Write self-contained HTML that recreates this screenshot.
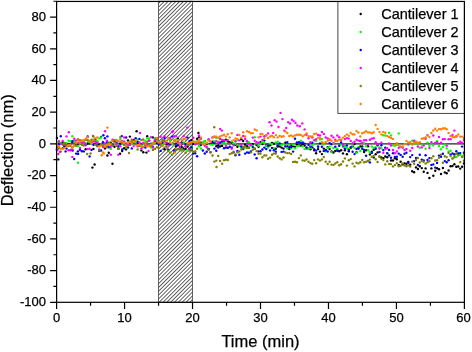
<!DOCTYPE html><html><head><meta charset="utf-8"><style>html,body{margin:0;padding:0;background:#fff}body{width:472px;height:352px;overflow:hidden;position:relative}</style></head><body><svg width="472" height="352" viewBox="0 0 472 352" style="position:absolute;left:0;top:0;will-change:transform;font-family:'Liberation Sans',sans-serif"><style>text{stroke:#000;stroke-width:.25px}</style><defs><pattern id="h" width="2.715" height="2.715" patternUnits="userSpaceOnUse" patternTransform="rotate(-45)"><rect x="0" y="0" width="2.715" height=".82" fill="#444"/></pattern></defs><rect width="472" height="352" fill="#fff"/><rect x="158.5" y="1.25" width="34.0" height="301.05" fill="url(#h)" stroke="#404040" stroke-width=".8"/><line x1="56.6" x2="464.4" y1="143.85" y2="143.85" stroke="#222" stroke-width="1.4"/><g><circle cx="56.9" cy="137.9" r="1.2" fill="#000000"/><circle cx="58.9" cy="143.7" r="1.2" fill="#000000"/><circle cx="60.8" cy="143.7" r="1.2" fill="#000000"/><circle cx="62.7" cy="142.4" r="1.2" fill="#000000"/><circle cx="64.6" cy="146.2" r="1.2" fill="#000000"/><circle cx="66.5" cy="144.5" r="1.2" fill="#000000"/><circle cx="68.5" cy="144.1" r="1.2" fill="#000000"/><circle cx="70.4" cy="150.1" r="1.2" fill="#000000"/><circle cx="72.3" cy="142.1" r="1.2" fill="#000000"/><circle cx="74.2" cy="141.2" r="1.2" fill="#000000"/><circle cx="76.1" cy="145.3" r="1.2" fill="#000000"/><circle cx="78.1" cy="144.9" r="1.2" fill="#000000"/><circle cx="80.0" cy="142.4" r="1.2" fill="#000000"/><circle cx="81.9" cy="144.3" r="1.2" fill="#000000"/><circle cx="83.8" cy="144.8" r="1.2" fill="#000000"/><circle cx="85.7" cy="149.2" r="1.2" fill="#000000"/><circle cx="87.7" cy="143.5" r="1.2" fill="#000000"/><circle cx="89.6" cy="143.3" r="1.2" fill="#000000"/><circle cx="91.5" cy="142.7" r="1.2" fill="#000000"/><circle cx="93.4" cy="148.9" r="1.2" fill="#000000"/><circle cx="95.3" cy="139.6" r="1.2" fill="#000000"/><circle cx="97.3" cy="142.0" r="1.2" fill="#000000"/><circle cx="99.2" cy="144.7" r="1.2" fill="#000000"/><circle cx="101.1" cy="137.0" r="1.2" fill="#000000"/><circle cx="103.0" cy="142.0" r="1.2" fill="#000000"/><circle cx="104.9" cy="148.4" r="1.2" fill="#000000"/><circle cx="106.9" cy="146.6" r="1.2" fill="#000000"/><circle cx="108.8" cy="152.7" r="1.2" fill="#000000"/><circle cx="110.7" cy="142.8" r="1.2" fill="#000000"/><circle cx="112.6" cy="145.0" r="1.2" fill="#000000"/><circle cx="114.5" cy="146.8" r="1.2" fill="#000000"/><circle cx="116.5" cy="141.0" r="1.2" fill="#000000"/><circle cx="118.4" cy="148.8" r="1.2" fill="#000000"/><circle cx="120.3" cy="143.5" r="1.2" fill="#000000"/><circle cx="122.2" cy="151.0" r="1.2" fill="#000000"/><circle cx="124.1" cy="148.3" r="1.2" fill="#000000"/><circle cx="126.1" cy="149.4" r="1.2" fill="#000000"/><circle cx="128.0" cy="140.4" r="1.2" fill="#000000"/><circle cx="129.9" cy="136.6" r="1.2" fill="#000000"/><circle cx="131.8" cy="142.8" r="1.2" fill="#000000"/><circle cx="133.7" cy="140.6" r="1.2" fill="#000000"/><circle cx="135.7" cy="143.5" r="1.2" fill="#000000"/><circle cx="137.6" cy="141.8" r="1.2" fill="#000000"/><circle cx="139.5" cy="145.9" r="1.2" fill="#000000"/><circle cx="141.4" cy="150.4" r="1.2" fill="#000000"/><circle cx="143.3" cy="152.2" r="1.2" fill="#000000"/><circle cx="145.3" cy="145.0" r="1.2" fill="#000000"/><circle cx="147.2" cy="136.3" r="1.2" fill="#000000"/><circle cx="149.1" cy="140.6" r="1.2" fill="#000000"/><circle cx="151.0" cy="144.7" r="1.2" fill="#000000"/><circle cx="152.9" cy="137.4" r="1.2" fill="#000000"/><circle cx="154.9" cy="141.1" r="1.2" fill="#000000"/><circle cx="156.8" cy="142.7" r="1.2" fill="#000000"/><circle cx="158.7" cy="142.6" r="1.2" fill="#000000"/><circle cx="160.6" cy="143.9" r="1.2" fill="#000000"/><circle cx="162.5" cy="145.0" r="1.2" fill="#000000"/><circle cx="164.5" cy="149.2" r="1.2" fill="#000000"/><circle cx="166.4" cy="143.7" r="1.2" fill="#000000"/><circle cx="168.3" cy="144.1" r="1.2" fill="#000000"/><circle cx="170.2" cy="139.8" r="1.2" fill="#000000"/><circle cx="172.1" cy="143.9" r="1.2" fill="#000000"/><circle cx="174.1" cy="150.6" r="1.2" fill="#000000"/><circle cx="176.0" cy="146.2" r="1.2" fill="#000000"/><circle cx="177.9" cy="138.6" r="1.2" fill="#000000"/><circle cx="179.8" cy="143.6" r="1.2" fill="#000000"/><circle cx="181.7" cy="146.9" r="1.2" fill="#000000"/><circle cx="183.7" cy="149.0" r="1.2" fill="#000000"/><circle cx="185.6" cy="149.1" r="1.2" fill="#000000"/><circle cx="187.5" cy="146.5" r="1.2" fill="#000000"/><circle cx="189.4" cy="148.8" r="1.2" fill="#000000"/><circle cx="191.3" cy="140.1" r="1.2" fill="#000000"/><circle cx="193.3" cy="143.7" r="1.2" fill="#000000"/><circle cx="195.2" cy="143.5" r="1.2" fill="#000000"/><circle cx="197.1" cy="138.8" r="1.2" fill="#000000"/><circle cx="199.0" cy="137.2" r="1.2" fill="#000000"/><circle cx="200.9" cy="142.7" r="1.2" fill="#000000"/><circle cx="202.9" cy="142.5" r="1.2" fill="#000000"/><circle cx="204.8" cy="141.1" r="1.2" fill="#000000"/><circle cx="206.7" cy="144.0" r="1.2" fill="#000000"/><circle cx="208.6" cy="148.9" r="1.2" fill="#000000"/><circle cx="210.5" cy="143.9" r="1.2" fill="#000000"/><circle cx="212.5" cy="141.8" r="1.2" fill="#000000"/><circle cx="214.4" cy="142.5" r="1.2" fill="#000000"/><circle cx="216.3" cy="146.3" r="1.2" fill="#000000"/><circle cx="218.2" cy="145.5" r="1.2" fill="#000000"/><circle cx="220.1" cy="146.4" r="1.2" fill="#000000"/><circle cx="222.1" cy="145.9" r="1.2" fill="#000000"/><circle cx="224.0" cy="141.5" r="1.2" fill="#000000"/><circle cx="225.9" cy="139.6" r="1.2" fill="#000000"/><circle cx="227.8" cy="141.4" r="1.2" fill="#000000"/><circle cx="229.7" cy="142.3" r="1.2" fill="#000000"/><circle cx="231.7" cy="142.2" r="1.2" fill="#000000"/><circle cx="233.6" cy="144.1" r="1.2" fill="#000000"/><circle cx="235.5" cy="144.8" r="1.2" fill="#000000"/><circle cx="237.4" cy="146.7" r="1.2" fill="#000000"/><circle cx="239.3" cy="145.6" r="1.2" fill="#000000"/><circle cx="241.3" cy="139.2" r="1.2" fill="#000000"/><circle cx="243.2" cy="141.0" r="1.2" fill="#000000"/><circle cx="245.1" cy="144.8" r="1.2" fill="#000000"/><circle cx="247.0" cy="146.3" r="1.2" fill="#000000"/><circle cx="248.9" cy="147.8" r="1.2" fill="#000000"/><circle cx="250.9" cy="145.0" r="1.2" fill="#000000"/><circle cx="252.8" cy="144.2" r="1.2" fill="#000000"/><circle cx="254.7" cy="148.8" r="1.2" fill="#000000"/><circle cx="256.6" cy="145.1" r="1.2" fill="#000000"/><circle cx="258.5" cy="146.8" r="1.2" fill="#000000"/><circle cx="260.5" cy="142.1" r="1.2" fill="#000000"/><circle cx="262.4" cy="144.1" r="1.2" fill="#000000"/><circle cx="264.3" cy="140.6" r="1.2" fill="#000000"/><circle cx="266.2" cy="145.4" r="1.2" fill="#000000"/><circle cx="268.1" cy="146.5" r="1.2" fill="#000000"/><circle cx="270.1" cy="145.3" r="1.2" fill="#000000"/><circle cx="272.0" cy="143.0" r="1.2" fill="#000000"/><circle cx="273.9" cy="143.7" r="1.2" fill="#000000"/><circle cx="275.8" cy="148.7" r="1.2" fill="#000000"/><circle cx="277.7" cy="146.5" r="1.2" fill="#000000"/><circle cx="279.7" cy="146.4" r="1.2" fill="#000000"/><circle cx="281.6" cy="147.6" r="1.2" fill="#000000"/><circle cx="283.5" cy="148.6" r="1.2" fill="#000000"/><circle cx="285.4" cy="142.6" r="1.2" fill="#000000"/><circle cx="287.3" cy="146.5" r="1.2" fill="#000000"/><circle cx="289.3" cy="149.0" r="1.2" fill="#000000"/><circle cx="291.2" cy="145.8" r="1.2" fill="#000000"/><circle cx="293.1" cy="146.3" r="1.2" fill="#000000"/><circle cx="295.0" cy="147.0" r="1.2" fill="#000000"/><circle cx="296.9" cy="145.0" r="1.2" fill="#000000"/><circle cx="298.9" cy="145.2" r="1.2" fill="#000000"/><circle cx="300.8" cy="145.6" r="1.2" fill="#000000"/><circle cx="302.7" cy="144.2" r="1.2" fill="#000000"/><circle cx="304.6" cy="145.6" r="1.2" fill="#000000"/><circle cx="306.5" cy="148.4" r="1.2" fill="#000000"/><circle cx="308.5" cy="148.7" r="1.2" fill="#000000"/><circle cx="310.4" cy="149.2" r="1.2" fill="#000000"/><circle cx="312.3" cy="147.4" r="1.2" fill="#000000"/><circle cx="314.2" cy="150.3" r="1.2" fill="#000000"/><circle cx="316.1" cy="153.3" r="1.2" fill="#000000"/><circle cx="318.1" cy="149.1" r="1.2" fill="#000000"/><circle cx="320.0" cy="151.6" r="1.2" fill="#000000"/><circle cx="321.9" cy="154.1" r="1.2" fill="#000000"/><circle cx="323.8" cy="148.6" r="1.2" fill="#000000"/><circle cx="325.7" cy="149.9" r="1.2" fill="#000000"/><circle cx="327.7" cy="147.1" r="1.2" fill="#000000"/><circle cx="329.6" cy="149.1" r="1.2" fill="#000000"/><circle cx="331.5" cy="151.4" r="1.2" fill="#000000"/><circle cx="333.4" cy="152.5" r="1.2" fill="#000000"/><circle cx="335.3" cy="151.0" r="1.2" fill="#000000"/><circle cx="337.3" cy="150.0" r="1.2" fill="#000000"/><circle cx="339.2" cy="151.2" r="1.2" fill="#000000"/><circle cx="341.1" cy="150.2" r="1.2" fill="#000000"/><circle cx="343.0" cy="153.4" r="1.2" fill="#000000"/><circle cx="344.9" cy="150.3" r="1.2" fill="#000000"/><circle cx="346.9" cy="154.3" r="1.2" fill="#000000"/><circle cx="348.8" cy="151.3" r="1.2" fill="#000000"/><circle cx="350.7" cy="148.1" r="1.2" fill="#000000"/><circle cx="352.6" cy="146.2" r="1.2" fill="#000000"/><circle cx="354.5" cy="144.1" r="1.2" fill="#000000"/><circle cx="356.5" cy="152.2" r="1.2" fill="#000000"/><circle cx="358.4" cy="148.6" r="1.2" fill="#000000"/><circle cx="360.3" cy="146.4" r="1.2" fill="#000000"/><circle cx="362.2" cy="146.5" r="1.2" fill="#000000"/><circle cx="364.1" cy="152.0" r="1.2" fill="#000000"/><circle cx="366.1" cy="150.3" r="1.2" fill="#000000"/><circle cx="368.0" cy="146.3" r="1.2" fill="#000000"/><circle cx="369.9" cy="154.4" r="1.2" fill="#000000"/><circle cx="371.8" cy="151.8" r="1.2" fill="#000000"/><circle cx="373.7" cy="149.7" r="1.2" fill="#000000"/><circle cx="375.7" cy="154.2" r="1.2" fill="#000000"/><circle cx="377.6" cy="152.4" r="1.2" fill="#000000"/><circle cx="379.5" cy="156.6" r="1.2" fill="#000000"/><circle cx="381.4" cy="157.5" r="1.2" fill="#000000"/><circle cx="383.3" cy="158.2" r="1.2" fill="#000000"/><circle cx="385.3" cy="156.5" r="1.2" fill="#000000"/><circle cx="387.2" cy="157.3" r="1.2" fill="#000000"/><circle cx="389.1" cy="155.4" r="1.2" fill="#000000"/><circle cx="391.0" cy="160.5" r="1.2" fill="#000000"/><circle cx="393.0" cy="160.5" r="1.2" fill="#000000"/><circle cx="394.9" cy="158.3" r="1.2" fill="#000000"/><circle cx="396.8" cy="159.2" r="1.2" fill="#000000"/><circle cx="398.7" cy="164.9" r="1.2" fill="#000000"/><circle cx="400.6" cy="161.8" r="1.2" fill="#000000"/><circle cx="402.6" cy="164.4" r="1.2" fill="#000000"/><circle cx="404.5" cy="163.4" r="1.2" fill="#000000"/><circle cx="406.4" cy="163.7" r="1.2" fill="#000000"/><circle cx="408.3" cy="161.9" r="1.2" fill="#000000"/><circle cx="410.2" cy="164.7" r="1.2" fill="#000000"/><circle cx="412.2" cy="171.2" r="1.2" fill="#000000"/><circle cx="414.1" cy="172.3" r="1.2" fill="#000000"/><circle cx="416.0" cy="167.4" r="1.2" fill="#000000"/><circle cx="417.9" cy="169.0" r="1.2" fill="#000000"/><circle cx="419.8" cy="166.2" r="1.2" fill="#000000"/><circle cx="421.8" cy="168.1" r="1.2" fill="#000000"/><circle cx="423.7" cy="171.8" r="1.2" fill="#000000"/><circle cx="425.6" cy="168.4" r="1.2" fill="#000000"/><circle cx="427.5" cy="172.9" r="1.2" fill="#000000"/><circle cx="429.4" cy="178.0" r="1.2" fill="#000000"/><circle cx="431.4" cy="168.4" r="1.2" fill="#000000"/><circle cx="433.3" cy="175.7" r="1.2" fill="#000000"/><circle cx="435.2" cy="170.8" r="1.2" fill="#000000"/><circle cx="437.1" cy="168.2" r="1.2" fill="#000000"/><circle cx="439.0" cy="169.2" r="1.2" fill="#000000"/><circle cx="441.0" cy="174.0" r="1.2" fill="#000000"/><circle cx="442.9" cy="168.0" r="1.2" fill="#000000"/><circle cx="444.8" cy="172.4" r="1.2" fill="#000000"/><circle cx="446.7" cy="173.2" r="1.2" fill="#000000"/><circle cx="448.6" cy="170.5" r="1.2" fill="#000000"/><circle cx="450.6" cy="166.3" r="1.2" fill="#000000"/><circle cx="452.5" cy="166.0" r="1.2" fill="#000000"/><circle cx="454.4" cy="164.3" r="1.2" fill="#000000"/><circle cx="456.3" cy="166.8" r="1.2" fill="#000000"/><circle cx="458.2" cy="166.5" r="1.2" fill="#000000"/><circle cx="460.2" cy="168.6" r="1.2" fill="#000000"/><circle cx="462.1" cy="166.8" r="1.2" fill="#000000"/><circle cx="464.0" cy="163.5" r="1.2" fill="#000000"/><circle cx="94.6" cy="164.5" r="1.2" fill="#000000"/><circle cx="92.4" cy="167.6" r="1.2" fill="#000000"/><circle cx="112.5" cy="163.7" r="1.2" fill="#000000"/><circle cx="107.4" cy="155.5" r="1.2" fill="#000000"/><circle cx="120.1" cy="153.8" r="1.2" fill="#000000"/><circle cx="58.3" cy="159.4" r="1.2" fill="#000000"/><circle cx="136.6" cy="131.3" r="1.2" fill="#000000"/><circle cx="146.4" cy="152.6" r="1.2" fill="#000000"/><circle cx="191.1" cy="150.0" r="1.2" fill="#000000"/><circle cx="198.4" cy="133.0" r="1.2" fill="#000000"/></g><g><circle cx="56.9" cy="143.3" r="1.2" fill="#00ff00"/><circle cx="58.9" cy="141.0" r="1.2" fill="#00ff00"/><circle cx="60.8" cy="143.8" r="1.2" fill="#00ff00"/><circle cx="62.7" cy="144.7" r="1.2" fill="#00ff00"/><circle cx="64.6" cy="142.9" r="1.2" fill="#00ff00"/><circle cx="66.5" cy="143.1" r="1.2" fill="#00ff00"/><circle cx="68.5" cy="140.6" r="1.2" fill="#00ff00"/><circle cx="70.4" cy="141.3" r="1.2" fill="#00ff00"/><circle cx="72.3" cy="136.3" r="1.2" fill="#00ff00"/><circle cx="74.2" cy="141.3" r="1.2" fill="#00ff00"/><circle cx="76.1" cy="142.8" r="1.2" fill="#00ff00"/><circle cx="78.1" cy="145.9" r="1.2" fill="#00ff00"/><circle cx="80.0" cy="143.4" r="1.2" fill="#00ff00"/><circle cx="81.9" cy="140.5" r="1.2" fill="#00ff00"/><circle cx="83.8" cy="144.3" r="1.2" fill="#00ff00"/><circle cx="85.7" cy="143.2" r="1.2" fill="#00ff00"/><circle cx="87.7" cy="140.3" r="1.2" fill="#00ff00"/><circle cx="89.6" cy="142.2" r="1.2" fill="#00ff00"/><circle cx="91.5" cy="144.1" r="1.2" fill="#00ff00"/><circle cx="93.4" cy="139.8" r="1.2" fill="#00ff00"/><circle cx="95.3" cy="141.4" r="1.2" fill="#00ff00"/><circle cx="97.3" cy="140.9" r="1.2" fill="#00ff00"/><circle cx="99.2" cy="138.2" r="1.2" fill="#00ff00"/><circle cx="101.1" cy="137.5" r="1.2" fill="#00ff00"/><circle cx="103.0" cy="142.2" r="1.2" fill="#00ff00"/><circle cx="104.9" cy="144.2" r="1.2" fill="#00ff00"/><circle cx="106.9" cy="142.1" r="1.2" fill="#00ff00"/><circle cx="108.8" cy="142.9" r="1.2" fill="#00ff00"/><circle cx="110.7" cy="148.9" r="1.2" fill="#00ff00"/><circle cx="112.6" cy="140.3" r="1.2" fill="#00ff00"/><circle cx="114.5" cy="141.9" r="1.2" fill="#00ff00"/><circle cx="116.5" cy="140.0" r="1.2" fill="#00ff00"/><circle cx="118.4" cy="145.7" r="1.2" fill="#00ff00"/><circle cx="120.3" cy="139.3" r="1.2" fill="#00ff00"/><circle cx="122.2" cy="143.6" r="1.2" fill="#00ff00"/><circle cx="124.1" cy="143.3" r="1.2" fill="#00ff00"/><circle cx="126.1" cy="147.5" r="1.2" fill="#00ff00"/><circle cx="128.0" cy="144.7" r="1.2" fill="#00ff00"/><circle cx="129.9" cy="144.0" r="1.2" fill="#00ff00"/><circle cx="131.8" cy="143.7" r="1.2" fill="#00ff00"/><circle cx="133.7" cy="141.6" r="1.2" fill="#00ff00"/><circle cx="135.7" cy="142.2" r="1.2" fill="#00ff00"/><circle cx="137.6" cy="139.4" r="1.2" fill="#00ff00"/><circle cx="139.5" cy="143.3" r="1.2" fill="#00ff00"/><circle cx="141.4" cy="146.2" r="1.2" fill="#00ff00"/><circle cx="143.3" cy="143.9" r="1.2" fill="#00ff00"/><circle cx="145.3" cy="141.0" r="1.2" fill="#00ff00"/><circle cx="147.2" cy="138.2" r="1.2" fill="#00ff00"/><circle cx="149.1" cy="138.7" r="1.2" fill="#00ff00"/><circle cx="151.0" cy="147.4" r="1.2" fill="#00ff00"/><circle cx="152.9" cy="143.0" r="1.2" fill="#00ff00"/><circle cx="154.9" cy="138.1" r="1.2" fill="#00ff00"/><circle cx="156.8" cy="141.2" r="1.2" fill="#00ff00"/><circle cx="158.7" cy="144.1" r="1.2" fill="#00ff00"/><circle cx="160.6" cy="142.2" r="1.2" fill="#00ff00"/><circle cx="162.5" cy="144.3" r="1.2" fill="#00ff00"/><circle cx="164.5" cy="141.2" r="1.2" fill="#00ff00"/><circle cx="166.4" cy="142.5" r="1.2" fill="#00ff00"/><circle cx="168.3" cy="138.2" r="1.2" fill="#00ff00"/><circle cx="170.2" cy="139.9" r="1.2" fill="#00ff00"/><circle cx="172.1" cy="144.4" r="1.2" fill="#00ff00"/><circle cx="174.1" cy="141.4" r="1.2" fill="#00ff00"/><circle cx="176.0" cy="139.4" r="1.2" fill="#00ff00"/><circle cx="177.9" cy="143.8" r="1.2" fill="#00ff00"/><circle cx="179.8" cy="144.6" r="1.2" fill="#00ff00"/><circle cx="181.7" cy="151.1" r="1.2" fill="#00ff00"/><circle cx="183.7" cy="142.5" r="1.2" fill="#00ff00"/><circle cx="185.6" cy="144.8" r="1.2" fill="#00ff00"/><circle cx="187.5" cy="150.5" r="1.2" fill="#00ff00"/><circle cx="189.4" cy="151.1" r="1.2" fill="#00ff00"/><circle cx="191.3" cy="146.2" r="1.2" fill="#00ff00"/><circle cx="193.3" cy="141.5" r="1.2" fill="#00ff00"/><circle cx="195.2" cy="142.9" r="1.2" fill="#00ff00"/><circle cx="197.1" cy="141.5" r="1.2" fill="#00ff00"/><circle cx="199.0" cy="146.3" r="1.2" fill="#00ff00"/><circle cx="200.9" cy="148.5" r="1.2" fill="#00ff00"/><circle cx="202.9" cy="141.9" r="1.2" fill="#00ff00"/><circle cx="204.8" cy="141.2" r="1.2" fill="#00ff00"/><circle cx="206.7" cy="142.8" r="1.2" fill="#00ff00"/><circle cx="208.6" cy="139.9" r="1.2" fill="#00ff00"/><circle cx="210.5" cy="144.6" r="1.2" fill="#00ff00"/><circle cx="212.5" cy="144.8" r="1.2" fill="#00ff00"/><circle cx="214.4" cy="141.2" r="1.2" fill="#00ff00"/><circle cx="216.3" cy="138.1" r="1.2" fill="#00ff00"/><circle cx="218.2" cy="141.8" r="1.2" fill="#00ff00"/><circle cx="220.1" cy="138.7" r="1.2" fill="#00ff00"/><circle cx="222.1" cy="143.5" r="1.2" fill="#00ff00"/><circle cx="224.0" cy="142.6" r="1.2" fill="#00ff00"/><circle cx="225.9" cy="143.6" r="1.2" fill="#00ff00"/><circle cx="227.8" cy="147.5" r="1.2" fill="#00ff00"/><circle cx="229.7" cy="144.1" r="1.2" fill="#00ff00"/><circle cx="231.7" cy="141.4" r="1.2" fill="#00ff00"/><circle cx="233.6" cy="143.3" r="1.2" fill="#00ff00"/><circle cx="235.5" cy="143.7" r="1.2" fill="#00ff00"/><circle cx="237.4" cy="140.1" r="1.2" fill="#00ff00"/><circle cx="239.3" cy="145.7" r="1.2" fill="#00ff00"/><circle cx="241.3" cy="148.0" r="1.2" fill="#00ff00"/><circle cx="243.2" cy="146.6" r="1.2" fill="#00ff00"/><circle cx="245.1" cy="147.5" r="1.2" fill="#00ff00"/><circle cx="247.0" cy="141.5" r="1.2" fill="#00ff00"/><circle cx="248.9" cy="142.3" r="1.2" fill="#00ff00"/><circle cx="250.9" cy="145.5" r="1.2" fill="#00ff00"/><circle cx="252.8" cy="145.8" r="1.2" fill="#00ff00"/><circle cx="254.7" cy="137.3" r="1.2" fill="#00ff00"/><circle cx="256.6" cy="143.4" r="1.2" fill="#00ff00"/><circle cx="258.5" cy="145.6" r="1.2" fill="#00ff00"/><circle cx="260.5" cy="143.6" r="1.2" fill="#00ff00"/><circle cx="262.4" cy="142.2" r="1.2" fill="#00ff00"/><circle cx="264.3" cy="142.9" r="1.2" fill="#00ff00"/><circle cx="266.2" cy="145.9" r="1.2" fill="#00ff00"/><circle cx="268.1" cy="147.5" r="1.2" fill="#00ff00"/><circle cx="270.1" cy="143.6" r="1.2" fill="#00ff00"/><circle cx="272.0" cy="144.1" r="1.2" fill="#00ff00"/><circle cx="273.9" cy="148.3" r="1.2" fill="#00ff00"/><circle cx="275.8" cy="142.5" r="1.2" fill="#00ff00"/><circle cx="277.7" cy="141.8" r="1.2" fill="#00ff00"/><circle cx="279.7" cy="144.2" r="1.2" fill="#00ff00"/><circle cx="281.6" cy="145.0" r="1.2" fill="#00ff00"/><circle cx="283.5" cy="144.0" r="1.2" fill="#00ff00"/><circle cx="285.4" cy="146.0" r="1.2" fill="#00ff00"/><circle cx="287.3" cy="148.3" r="1.2" fill="#00ff00"/><circle cx="289.3" cy="144.9" r="1.2" fill="#00ff00"/><circle cx="291.2" cy="148.3" r="1.2" fill="#00ff00"/><circle cx="293.1" cy="144.7" r="1.2" fill="#00ff00"/><circle cx="295.0" cy="148.3" r="1.2" fill="#00ff00"/><circle cx="296.9" cy="146.1" r="1.2" fill="#00ff00"/><circle cx="298.9" cy="145.6" r="1.2" fill="#00ff00"/><circle cx="300.8" cy="140.7" r="1.2" fill="#00ff00"/><circle cx="302.7" cy="146.4" r="1.2" fill="#00ff00"/><circle cx="304.6" cy="149.1" r="1.2" fill="#00ff00"/><circle cx="306.5" cy="148.0" r="1.2" fill="#00ff00"/><circle cx="308.5" cy="148.9" r="1.2" fill="#00ff00"/><circle cx="310.4" cy="147.9" r="1.2" fill="#00ff00"/><circle cx="312.3" cy="145.2" r="1.2" fill="#00ff00"/><circle cx="314.2" cy="143.6" r="1.2" fill="#00ff00"/><circle cx="316.1" cy="140.9" r="1.2" fill="#00ff00"/><circle cx="318.1" cy="146.2" r="1.2" fill="#00ff00"/><circle cx="320.0" cy="139.4" r="1.2" fill="#00ff00"/><circle cx="321.9" cy="139.0" r="1.2" fill="#00ff00"/><circle cx="323.8" cy="144.5" r="1.2" fill="#00ff00"/><circle cx="325.7" cy="151.4" r="1.2" fill="#00ff00"/><circle cx="327.7" cy="148.0" r="1.2" fill="#00ff00"/><circle cx="329.6" cy="146.6" r="1.2" fill="#00ff00"/><circle cx="331.5" cy="152.1" r="1.2" fill="#00ff00"/><circle cx="333.4" cy="147.9" r="1.2" fill="#00ff00"/><circle cx="335.3" cy="147.4" r="1.2" fill="#00ff00"/><circle cx="337.3" cy="148.7" r="1.2" fill="#00ff00"/><circle cx="339.2" cy="145.6" r="1.2" fill="#00ff00"/><circle cx="341.1" cy="143.8" r="1.2" fill="#00ff00"/><circle cx="343.0" cy="146.9" r="1.2" fill="#00ff00"/><circle cx="344.9" cy="146.2" r="1.2" fill="#00ff00"/><circle cx="346.9" cy="148.2" r="1.2" fill="#00ff00"/><circle cx="348.8" cy="149.1" r="1.2" fill="#00ff00"/><circle cx="350.7" cy="147.3" r="1.2" fill="#00ff00"/><circle cx="352.6" cy="145.6" r="1.2" fill="#00ff00"/><circle cx="354.5" cy="147.9" r="1.2" fill="#00ff00"/><circle cx="356.5" cy="152.7" r="1.2" fill="#00ff00"/><circle cx="358.4" cy="147.2" r="1.2" fill="#00ff00"/><circle cx="360.3" cy="151.0" r="1.2" fill="#00ff00"/><circle cx="362.2" cy="147.9" r="1.2" fill="#00ff00"/><circle cx="364.1" cy="143.1" r="1.2" fill="#00ff00"/><circle cx="366.1" cy="146.2" r="1.2" fill="#00ff00"/><circle cx="368.0" cy="150.3" r="1.2" fill="#00ff00"/><circle cx="369.9" cy="152.3" r="1.2" fill="#00ff00"/><circle cx="371.8" cy="146.5" r="1.2" fill="#00ff00"/><circle cx="373.7" cy="147.9" r="1.2" fill="#00ff00"/><circle cx="375.7" cy="147.1" r="1.2" fill="#00ff00"/><circle cx="377.6" cy="145.6" r="1.2" fill="#00ff00"/><circle cx="379.5" cy="147.4" r="1.2" fill="#00ff00"/><circle cx="381.4" cy="148.3" r="1.2" fill="#00ff00"/><circle cx="383.3" cy="135.3" r="1.2" fill="#00ff00"/><circle cx="385.3" cy="135.5" r="1.2" fill="#00ff00"/><circle cx="387.2" cy="153.2" r="1.2" fill="#00ff00"/><circle cx="389.1" cy="132.9" r="1.2" fill="#00ff00"/><circle cx="391.0" cy="135.4" r="1.2" fill="#00ff00"/><circle cx="393.0" cy="145.3" r="1.2" fill="#00ff00"/><circle cx="394.9" cy="145.8" r="1.2" fill="#00ff00"/><circle cx="396.8" cy="145.1" r="1.2" fill="#00ff00"/><circle cx="398.7" cy="133.4" r="1.2" fill="#00ff00"/><circle cx="400.6" cy="146.9" r="1.2" fill="#00ff00"/><circle cx="402.6" cy="146.5" r="1.2" fill="#00ff00"/><circle cx="404.5" cy="149.6" r="1.2" fill="#00ff00"/><circle cx="406.4" cy="144.1" r="1.2" fill="#00ff00"/><circle cx="408.3" cy="144.7" r="1.2" fill="#00ff00"/><circle cx="410.2" cy="143.8" r="1.2" fill="#00ff00"/><circle cx="412.2" cy="140.8" r="1.2" fill="#00ff00"/><circle cx="414.1" cy="141.1" r="1.2" fill="#00ff00"/><circle cx="416.0" cy="143.9" r="1.2" fill="#00ff00"/><circle cx="417.9" cy="142.7" r="1.2" fill="#00ff00"/><circle cx="419.8" cy="147.8" r="1.2" fill="#00ff00"/><circle cx="421.8" cy="144.6" r="1.2" fill="#00ff00"/><circle cx="423.7" cy="144.4" r="1.2" fill="#00ff00"/><circle cx="425.6" cy="148.7" r="1.2" fill="#00ff00"/><circle cx="427.5" cy="142.6" r="1.2" fill="#00ff00"/><circle cx="429.4" cy="145.8" r="1.2" fill="#00ff00"/><circle cx="431.4" cy="143.3" r="1.2" fill="#00ff00"/><circle cx="433.3" cy="145.4" r="1.2" fill="#00ff00"/><circle cx="435.2" cy="142.6" r="1.2" fill="#00ff00"/><circle cx="437.1" cy="141.1" r="1.2" fill="#00ff00"/><circle cx="439.0" cy="146.0" r="1.2" fill="#00ff00"/><circle cx="441.0" cy="149.3" r="1.2" fill="#00ff00"/><circle cx="442.9" cy="146.9" r="1.2" fill="#00ff00"/><circle cx="444.8" cy="144.5" r="1.2" fill="#00ff00"/><circle cx="446.7" cy="148.4" r="1.2" fill="#00ff00"/><circle cx="448.6" cy="151.4" r="1.2" fill="#00ff00"/><circle cx="450.6" cy="150.8" r="1.2" fill="#00ff00"/><circle cx="452.5" cy="158.6" r="1.2" fill="#00ff00"/><circle cx="454.4" cy="155.9" r="1.2" fill="#00ff00"/><circle cx="456.3" cy="157.0" r="1.2" fill="#00ff00"/><circle cx="458.2" cy="153.3" r="1.2" fill="#00ff00"/><circle cx="460.2" cy="154.9" r="1.2" fill="#00ff00"/><circle cx="462.1" cy="156.5" r="1.2" fill="#00ff00"/><circle cx="464.0" cy="155.2" r="1.2" fill="#00ff00"/><circle cx="77.9" cy="162.8" r="1.2" fill="#00ff00"/></g><g><circle cx="56.9" cy="149.9" r="1.2" fill="#0000ff"/><circle cx="58.9" cy="144.6" r="1.2" fill="#0000ff"/><circle cx="60.8" cy="136.2" r="1.2" fill="#0000ff"/><circle cx="62.7" cy="148.2" r="1.2" fill="#0000ff"/><circle cx="64.6" cy="145.2" r="1.2" fill="#0000ff"/><circle cx="66.5" cy="148.6" r="1.2" fill="#0000ff"/><circle cx="68.5" cy="144.0" r="1.2" fill="#0000ff"/><circle cx="70.4" cy="144.3" r="1.2" fill="#0000ff"/><circle cx="72.3" cy="141.3" r="1.2" fill="#0000ff"/><circle cx="74.2" cy="159.0" r="1.2" fill="#0000ff"/><circle cx="76.1" cy="153.6" r="1.2" fill="#0000ff"/><circle cx="78.1" cy="153.9" r="1.2" fill="#0000ff"/><circle cx="80.0" cy="149.7" r="1.2" fill="#0000ff"/><circle cx="81.9" cy="151.3" r="1.2" fill="#0000ff"/><circle cx="83.8" cy="151.4" r="1.2" fill="#0000ff"/><circle cx="85.7" cy="144.6" r="1.2" fill="#0000ff"/><circle cx="87.7" cy="136.4" r="1.2" fill="#0000ff"/><circle cx="89.6" cy="156.4" r="1.2" fill="#0000ff"/><circle cx="91.5" cy="149.9" r="1.2" fill="#0000ff"/><circle cx="93.4" cy="144.7" r="1.2" fill="#0000ff"/><circle cx="95.3" cy="144.3" r="1.2" fill="#0000ff"/><circle cx="97.3" cy="145.5" r="1.2" fill="#0000ff"/><circle cx="99.2" cy="150.9" r="1.2" fill="#0000ff"/><circle cx="101.1" cy="150.5" r="1.2" fill="#0000ff"/><circle cx="103.0" cy="142.4" r="1.2" fill="#0000ff"/><circle cx="104.9" cy="138.2" r="1.2" fill="#0000ff"/><circle cx="106.9" cy="141.7" r="1.2" fill="#0000ff"/><circle cx="108.8" cy="147.2" r="1.2" fill="#0000ff"/><circle cx="110.7" cy="144.4" r="1.2" fill="#0000ff"/><circle cx="112.6" cy="145.2" r="1.2" fill="#0000ff"/><circle cx="114.5" cy="141.6" r="1.2" fill="#0000ff"/><circle cx="116.5" cy="142.6" r="1.2" fill="#0000ff"/><circle cx="118.4" cy="146.5" r="1.2" fill="#0000ff"/><circle cx="120.3" cy="143.7" r="1.2" fill="#0000ff"/><circle cx="122.2" cy="149.5" r="1.2" fill="#0000ff"/><circle cx="124.1" cy="141.6" r="1.2" fill="#0000ff"/><circle cx="126.1" cy="137.5" r="1.2" fill="#0000ff"/><circle cx="128.0" cy="147.6" r="1.2" fill="#0000ff"/><circle cx="129.9" cy="143.0" r="1.2" fill="#0000ff"/><circle cx="131.8" cy="148.4" r="1.2" fill="#0000ff"/><circle cx="133.7" cy="140.0" r="1.2" fill="#0000ff"/><circle cx="135.7" cy="138.3" r="1.2" fill="#0000ff"/><circle cx="137.6" cy="143.3" r="1.2" fill="#0000ff"/><circle cx="139.5" cy="138.9" r="1.2" fill="#0000ff"/><circle cx="141.4" cy="144.4" r="1.2" fill="#0000ff"/><circle cx="143.3" cy="147.1" r="1.2" fill="#0000ff"/><circle cx="145.3" cy="147.6" r="1.2" fill="#0000ff"/><circle cx="147.2" cy="145.6" r="1.2" fill="#0000ff"/><circle cx="149.1" cy="146.0" r="1.2" fill="#0000ff"/><circle cx="151.0" cy="143.7" r="1.2" fill="#0000ff"/><circle cx="152.9" cy="146.8" r="1.2" fill="#0000ff"/><circle cx="154.9" cy="141.0" r="1.2" fill="#0000ff"/><circle cx="156.8" cy="138.1" r="1.2" fill="#0000ff"/><circle cx="158.7" cy="144.5" r="1.2" fill="#0000ff"/><circle cx="160.6" cy="150.9" r="1.2" fill="#0000ff"/><circle cx="162.5" cy="142.5" r="1.2" fill="#0000ff"/><circle cx="164.5" cy="138.0" r="1.2" fill="#0000ff"/><circle cx="166.4" cy="142.9" r="1.2" fill="#0000ff"/><circle cx="168.3" cy="149.8" r="1.2" fill="#0000ff"/><circle cx="170.2" cy="144.3" r="1.2" fill="#0000ff"/><circle cx="172.1" cy="136.6" r="1.2" fill="#0000ff"/><circle cx="174.1" cy="150.7" r="1.2" fill="#0000ff"/><circle cx="176.0" cy="143.6" r="1.2" fill="#0000ff"/><circle cx="177.9" cy="145.3" r="1.2" fill="#0000ff"/><circle cx="179.8" cy="148.4" r="1.2" fill="#0000ff"/><circle cx="181.7" cy="142.8" r="1.2" fill="#0000ff"/><circle cx="183.7" cy="149.8" r="1.2" fill="#0000ff"/><circle cx="185.6" cy="144.2" r="1.2" fill="#0000ff"/><circle cx="187.5" cy="137.6" r="1.2" fill="#0000ff"/><circle cx="189.4" cy="141.1" r="1.2" fill="#0000ff"/><circle cx="191.3" cy="147.3" r="1.2" fill="#0000ff"/><circle cx="193.3" cy="153.6" r="1.2" fill="#0000ff"/><circle cx="195.2" cy="153.3" r="1.2" fill="#0000ff"/><circle cx="197.1" cy="156.2" r="1.2" fill="#0000ff"/><circle cx="199.0" cy="140.6" r="1.2" fill="#0000ff"/><circle cx="200.9" cy="145.1" r="1.2" fill="#0000ff"/><circle cx="202.9" cy="150.5" r="1.2" fill="#0000ff"/><circle cx="204.8" cy="153.5" r="1.2" fill="#0000ff"/><circle cx="206.7" cy="151.7" r="1.2" fill="#0000ff"/><circle cx="208.6" cy="149.3" r="1.2" fill="#0000ff"/><circle cx="210.5" cy="152.2" r="1.2" fill="#0000ff"/><circle cx="212.5" cy="142.5" r="1.2" fill="#0000ff"/><circle cx="214.4" cy="148.6" r="1.2" fill="#0000ff"/><circle cx="216.3" cy="150.7" r="1.2" fill="#0000ff"/><circle cx="218.2" cy="147.5" r="1.2" fill="#0000ff"/><circle cx="220.1" cy="142.5" r="1.2" fill="#0000ff"/><circle cx="222.1" cy="141.6" r="1.2" fill="#0000ff"/><circle cx="224.0" cy="148.2" r="1.2" fill="#0000ff"/><circle cx="225.9" cy="147.6" r="1.2" fill="#0000ff"/><circle cx="227.8" cy="147.9" r="1.2" fill="#0000ff"/><circle cx="229.7" cy="146.8" r="1.2" fill="#0000ff"/><circle cx="231.7" cy="147.6" r="1.2" fill="#0000ff"/><circle cx="233.6" cy="152.4" r="1.2" fill="#0000ff"/><circle cx="235.5" cy="155.2" r="1.2" fill="#0000ff"/><circle cx="237.4" cy="150.9" r="1.2" fill="#0000ff"/><circle cx="239.3" cy="154.7" r="1.2" fill="#0000ff"/><circle cx="241.3" cy="146.6" r="1.2" fill="#0000ff"/><circle cx="243.2" cy="149.0" r="1.2" fill="#0000ff"/><circle cx="245.1" cy="153.6" r="1.2" fill="#0000ff"/><circle cx="247.0" cy="152.4" r="1.2" fill="#0000ff"/><circle cx="248.9" cy="152.7" r="1.2" fill="#0000ff"/><circle cx="250.9" cy="151.4" r="1.2" fill="#0000ff"/><circle cx="252.8" cy="147.1" r="1.2" fill="#0000ff"/><circle cx="254.7" cy="154.5" r="1.2" fill="#0000ff"/><circle cx="256.6" cy="158.3" r="1.2" fill="#0000ff"/><circle cx="258.5" cy="151.4" r="1.2" fill="#0000ff"/><circle cx="260.5" cy="151.2" r="1.2" fill="#0000ff"/><circle cx="262.4" cy="149.5" r="1.2" fill="#0000ff"/><circle cx="264.3" cy="147.6" r="1.2" fill="#0000ff"/><circle cx="266.2" cy="149.0" r="1.2" fill="#0000ff"/><circle cx="268.1" cy="145.5" r="1.2" fill="#0000ff"/><circle cx="270.1" cy="150.4" r="1.2" fill="#0000ff"/><circle cx="272.0" cy="148.0" r="1.2" fill="#0000ff"/><circle cx="273.9" cy="150.2" r="1.2" fill="#0000ff"/><circle cx="275.8" cy="151.7" r="1.2" fill="#0000ff"/><circle cx="277.7" cy="145.4" r="1.2" fill="#0000ff"/><circle cx="279.7" cy="143.4" r="1.2" fill="#0000ff"/><circle cx="281.6" cy="151.9" r="1.2" fill="#0000ff"/><circle cx="283.5" cy="151.6" r="1.2" fill="#0000ff"/><circle cx="285.4" cy="146.4" r="1.2" fill="#0000ff"/><circle cx="287.3" cy="142.1" r="1.2" fill="#0000ff"/><circle cx="289.3" cy="147.3" r="1.2" fill="#0000ff"/><circle cx="291.2" cy="147.1" r="1.2" fill="#0000ff"/><circle cx="293.1" cy="151.6" r="1.2" fill="#0000ff"/><circle cx="295.0" cy="138.7" r="1.2" fill="#0000ff"/><circle cx="296.9" cy="142.5" r="1.2" fill="#0000ff"/><circle cx="298.9" cy="142.2" r="1.2" fill="#0000ff"/><circle cx="300.8" cy="143.1" r="1.2" fill="#0000ff"/><circle cx="302.7" cy="142.5" r="1.2" fill="#0000ff"/><circle cx="304.6" cy="143.6" r="1.2" fill="#0000ff"/><circle cx="306.5" cy="147.5" r="1.2" fill="#0000ff"/><circle cx="308.5" cy="144.9" r="1.2" fill="#0000ff"/><circle cx="310.4" cy="146.6" r="1.2" fill="#0000ff"/><circle cx="312.3" cy="142.8" r="1.2" fill="#0000ff"/><circle cx="314.2" cy="149.2" r="1.2" fill="#0000ff"/><circle cx="316.1" cy="150.6" r="1.2" fill="#0000ff"/><circle cx="318.1" cy="146.7" r="1.2" fill="#0000ff"/><circle cx="320.0" cy="143.4" r="1.2" fill="#0000ff"/><circle cx="321.9" cy="146.7" r="1.2" fill="#0000ff"/><circle cx="323.8" cy="150.9" r="1.2" fill="#0000ff"/><circle cx="325.7" cy="150.2" r="1.2" fill="#0000ff"/><circle cx="327.7" cy="151.5" r="1.2" fill="#0000ff"/><circle cx="329.6" cy="143.1" r="1.2" fill="#0000ff"/><circle cx="331.5" cy="144.3" r="1.2" fill="#0000ff"/><circle cx="333.4" cy="143.3" r="1.2" fill="#0000ff"/><circle cx="335.3" cy="146.6" r="1.2" fill="#0000ff"/><circle cx="337.3" cy="150.7" r="1.2" fill="#0000ff"/><circle cx="339.2" cy="145.7" r="1.2" fill="#0000ff"/><circle cx="341.1" cy="142.5" r="1.2" fill="#0000ff"/><circle cx="343.0" cy="145.4" r="1.2" fill="#0000ff"/><circle cx="344.9" cy="148.6" r="1.2" fill="#0000ff"/><circle cx="346.9" cy="145.5" r="1.2" fill="#0000ff"/><circle cx="348.8" cy="149.9" r="1.2" fill="#0000ff"/><circle cx="350.7" cy="147.1" r="1.2" fill="#0000ff"/><circle cx="352.6" cy="151.7" r="1.2" fill="#0000ff"/><circle cx="354.5" cy="154.1" r="1.2" fill="#0000ff"/><circle cx="356.5" cy="149.0" r="1.2" fill="#0000ff"/><circle cx="358.4" cy="148.2" r="1.2" fill="#0000ff"/><circle cx="360.3" cy="141.0" r="1.2" fill="#0000ff"/><circle cx="362.2" cy="148.7" r="1.2" fill="#0000ff"/><circle cx="364.1" cy="149.9" r="1.2" fill="#0000ff"/><circle cx="366.1" cy="155.8" r="1.2" fill="#0000ff"/><circle cx="368.0" cy="161.0" r="1.2" fill="#0000ff"/><circle cx="369.9" cy="162.4" r="1.2" fill="#0000ff"/><circle cx="371.8" cy="152.9" r="1.2" fill="#0000ff"/><circle cx="373.7" cy="157.6" r="1.2" fill="#0000ff"/><circle cx="375.7" cy="148.8" r="1.2" fill="#0000ff"/><circle cx="377.6" cy="145.1" r="1.2" fill="#0000ff"/><circle cx="379.5" cy="151.9" r="1.2" fill="#0000ff"/><circle cx="381.4" cy="145.3" r="1.2" fill="#0000ff"/><circle cx="383.3" cy="150.1" r="1.2" fill="#0000ff"/><circle cx="385.3" cy="147.7" r="1.2" fill="#0000ff"/><circle cx="387.2" cy="153.3" r="1.2" fill="#0000ff"/><circle cx="389.1" cy="149.9" r="1.2" fill="#0000ff"/><circle cx="391.0" cy="157.7" r="1.2" fill="#0000ff"/><circle cx="393.0" cy="153.2" r="1.2" fill="#0000ff"/><circle cx="394.9" cy="157.0" r="1.2" fill="#0000ff"/><circle cx="396.8" cy="156.8" r="1.2" fill="#0000ff"/><circle cx="398.7" cy="153.6" r="1.2" fill="#0000ff"/><circle cx="400.6" cy="154.9" r="1.2" fill="#0000ff"/><circle cx="402.6" cy="156.7" r="1.2" fill="#0000ff"/><circle cx="404.5" cy="153.8" r="1.2" fill="#0000ff"/><circle cx="406.4" cy="152.8" r="1.2" fill="#0000ff"/><circle cx="408.3" cy="162.7" r="1.2" fill="#0000ff"/><circle cx="410.2" cy="157.1" r="1.2" fill="#0000ff"/><circle cx="412.2" cy="155.1" r="1.2" fill="#0000ff"/><circle cx="414.1" cy="161.1" r="1.2" fill="#0000ff"/><circle cx="416.0" cy="158.0" r="1.2" fill="#0000ff"/><circle cx="417.9" cy="165.0" r="1.2" fill="#0000ff"/><circle cx="419.8" cy="154.8" r="1.2" fill="#0000ff"/><circle cx="421.8" cy="159.6" r="1.2" fill="#0000ff"/><circle cx="423.7" cy="160.5" r="1.2" fill="#0000ff"/><circle cx="425.6" cy="155.2" r="1.2" fill="#0000ff"/><circle cx="427.5" cy="159.9" r="1.2" fill="#0000ff"/><circle cx="429.4" cy="158.1" r="1.2" fill="#0000ff"/><circle cx="431.4" cy="164.9" r="1.2" fill="#0000ff"/><circle cx="433.3" cy="164.4" r="1.2" fill="#0000ff"/><circle cx="435.2" cy="167.6" r="1.2" fill="#0000ff"/><circle cx="437.1" cy="162.9" r="1.2" fill="#0000ff"/><circle cx="439.0" cy="155.6" r="1.2" fill="#0000ff"/><circle cx="441.0" cy="156.7" r="1.2" fill="#0000ff"/><circle cx="442.9" cy="153.7" r="1.2" fill="#0000ff"/><circle cx="444.8" cy="161.1" r="1.2" fill="#0000ff"/><circle cx="446.7" cy="162.3" r="1.2" fill="#0000ff"/><circle cx="448.6" cy="160.3" r="1.2" fill="#0000ff"/><circle cx="450.6" cy="154.6" r="1.2" fill="#0000ff"/><circle cx="452.5" cy="153.4" r="1.2" fill="#0000ff"/><circle cx="454.4" cy="154.3" r="1.2" fill="#0000ff"/><circle cx="456.3" cy="151.3" r="1.2" fill="#0000ff"/><circle cx="458.2" cy="153.5" r="1.2" fill="#0000ff"/><circle cx="460.2" cy="153.1" r="1.2" fill="#0000ff"/><circle cx="462.1" cy="146.6" r="1.2" fill="#0000ff"/><circle cx="464.0" cy="152.8" r="1.2" fill="#0000ff"/><circle cx="103.4" cy="135.2" r="1.2" fill="#0000ff"/><circle cx="107.4" cy="136.4" r="1.2" fill="#0000ff"/><circle cx="121.8" cy="136.1" r="1.2" fill="#0000ff"/><circle cx="65.6" cy="151.4" r="1.2" fill="#0000ff"/><circle cx="71.0" cy="150.0" r="1.2" fill="#0000ff"/><circle cx="72.7" cy="150.6" r="1.2" fill="#0000ff"/><circle cx="77.9" cy="151.4" r="1.2" fill="#0000ff"/></g><g><circle cx="56.9" cy="149.2" r="1.2" fill="#ff00ff"/><circle cx="58.9" cy="141.5" r="1.2" fill="#ff00ff"/><circle cx="60.8" cy="143.9" r="1.2" fill="#ff00ff"/><circle cx="62.7" cy="141.0" r="1.2" fill="#ff00ff"/><circle cx="64.6" cy="145.1" r="1.2" fill="#ff00ff"/><circle cx="66.5" cy="136.4" r="1.2" fill="#ff00ff"/><circle cx="68.5" cy="150.2" r="1.2" fill="#ff00ff"/><circle cx="70.4" cy="149.9" r="1.2" fill="#ff00ff"/><circle cx="72.3" cy="149.4" r="1.2" fill="#ff00ff"/><circle cx="74.2" cy="138.7" r="1.2" fill="#ff00ff"/><circle cx="76.1" cy="140.4" r="1.2" fill="#ff00ff"/><circle cx="78.1" cy="143.2" r="1.2" fill="#ff00ff"/><circle cx="80.0" cy="148.0" r="1.2" fill="#ff00ff"/><circle cx="81.9" cy="142.9" r="1.2" fill="#ff00ff"/><circle cx="83.8" cy="142.2" r="1.2" fill="#ff00ff"/><circle cx="85.7" cy="145.2" r="1.2" fill="#ff00ff"/><circle cx="87.7" cy="149.1" r="1.2" fill="#ff00ff"/><circle cx="89.6" cy="148.7" r="1.2" fill="#ff00ff"/><circle cx="91.5" cy="143.3" r="1.2" fill="#ff00ff"/><circle cx="93.4" cy="141.4" r="1.2" fill="#ff00ff"/><circle cx="95.3" cy="141.7" r="1.2" fill="#ff00ff"/><circle cx="97.3" cy="142.7" r="1.2" fill="#ff00ff"/><circle cx="99.2" cy="149.4" r="1.2" fill="#ff00ff"/><circle cx="101.1" cy="144.2" r="1.2" fill="#ff00ff"/><circle cx="103.0" cy="146.9" r="1.2" fill="#ff00ff"/><circle cx="104.9" cy="143.5" r="1.2" fill="#ff00ff"/><circle cx="106.9" cy="140.8" r="1.2" fill="#ff00ff"/><circle cx="108.8" cy="144.5" r="1.2" fill="#ff00ff"/><circle cx="110.7" cy="147.0" r="1.2" fill="#ff00ff"/><circle cx="112.6" cy="139.8" r="1.2" fill="#ff00ff"/><circle cx="114.5" cy="140.1" r="1.2" fill="#ff00ff"/><circle cx="116.5" cy="144.1" r="1.2" fill="#ff00ff"/><circle cx="118.4" cy="154.7" r="1.2" fill="#ff00ff"/><circle cx="120.3" cy="146.2" r="1.2" fill="#ff00ff"/><circle cx="122.2" cy="141.0" r="1.2" fill="#ff00ff"/><circle cx="124.1" cy="137.5" r="1.2" fill="#ff00ff"/><circle cx="126.1" cy="143.5" r="1.2" fill="#ff00ff"/><circle cx="128.0" cy="145.2" r="1.2" fill="#ff00ff"/><circle cx="129.9" cy="144.9" r="1.2" fill="#ff00ff"/><circle cx="131.8" cy="139.7" r="1.2" fill="#ff00ff"/><circle cx="133.7" cy="146.1" r="1.2" fill="#ff00ff"/><circle cx="135.7" cy="143.9" r="1.2" fill="#ff00ff"/><circle cx="137.6" cy="146.4" r="1.2" fill="#ff00ff"/><circle cx="139.5" cy="142.4" r="1.2" fill="#ff00ff"/><circle cx="141.4" cy="148.5" r="1.2" fill="#ff00ff"/><circle cx="143.3" cy="142.6" r="1.2" fill="#ff00ff"/><circle cx="145.3" cy="144.3" r="1.2" fill="#ff00ff"/><circle cx="147.2" cy="143.8" r="1.2" fill="#ff00ff"/><circle cx="149.1" cy="140.6" r="1.2" fill="#ff00ff"/><circle cx="151.0" cy="137.3" r="1.2" fill="#ff00ff"/><circle cx="152.9" cy="147.5" r="1.2" fill="#ff00ff"/><circle cx="154.9" cy="139.9" r="1.2" fill="#ff00ff"/><circle cx="156.8" cy="139.3" r="1.2" fill="#ff00ff"/><circle cx="158.7" cy="142.5" r="1.2" fill="#ff00ff"/><circle cx="160.6" cy="136.7" r="1.2" fill="#ff00ff"/><circle cx="162.5" cy="139.7" r="1.2" fill="#ff00ff"/><circle cx="164.5" cy="136.2" r="1.2" fill="#ff00ff"/><circle cx="166.4" cy="142.5" r="1.2" fill="#ff00ff"/><circle cx="168.3" cy="145.4" r="1.2" fill="#ff00ff"/><circle cx="170.2" cy="138.0" r="1.2" fill="#ff00ff"/><circle cx="172.1" cy="132.0" r="1.2" fill="#ff00ff"/><circle cx="174.1" cy="136.1" r="1.2" fill="#ff00ff"/><circle cx="176.0" cy="136.3" r="1.2" fill="#ff00ff"/><circle cx="177.9" cy="141.7" r="1.2" fill="#ff00ff"/><circle cx="179.8" cy="146.6" r="1.2" fill="#ff00ff"/><circle cx="181.7" cy="143.7" r="1.2" fill="#ff00ff"/><circle cx="183.7" cy="135.9" r="1.2" fill="#ff00ff"/><circle cx="185.6" cy="146.8" r="1.2" fill="#ff00ff"/><circle cx="187.5" cy="144.6" r="1.2" fill="#ff00ff"/><circle cx="189.4" cy="149.5" r="1.2" fill="#ff00ff"/><circle cx="191.3" cy="142.9" r="1.2" fill="#ff00ff"/><circle cx="193.3" cy="137.8" r="1.2" fill="#ff00ff"/><circle cx="195.2" cy="144.4" r="1.2" fill="#ff00ff"/><circle cx="197.1" cy="143.0" r="1.2" fill="#ff00ff"/><circle cx="199.0" cy="135.5" r="1.2" fill="#ff00ff"/><circle cx="200.9" cy="138.7" r="1.2" fill="#ff00ff"/><circle cx="202.9" cy="144.1" r="1.2" fill="#ff00ff"/><circle cx="204.8" cy="145.8" r="1.2" fill="#ff00ff"/><circle cx="206.7" cy="146.7" r="1.2" fill="#ff00ff"/><circle cx="208.6" cy="139.3" r="1.2" fill="#ff00ff"/><circle cx="210.5" cy="141.8" r="1.2" fill="#ff00ff"/><circle cx="212.5" cy="137.4" r="1.2" fill="#ff00ff"/><circle cx="214.4" cy="136.7" r="1.2" fill="#ff00ff"/><circle cx="216.3" cy="141.3" r="1.2" fill="#ff00ff"/><circle cx="218.2" cy="142.4" r="1.2" fill="#ff00ff"/><circle cx="220.1" cy="139.0" r="1.2" fill="#ff00ff"/><circle cx="222.1" cy="140.0" r="1.2" fill="#ff00ff"/><circle cx="224.0" cy="140.1" r="1.2" fill="#ff00ff"/><circle cx="225.9" cy="146.0" r="1.2" fill="#ff00ff"/><circle cx="227.8" cy="140.1" r="1.2" fill="#ff00ff"/><circle cx="229.7" cy="143.6" r="1.2" fill="#ff00ff"/><circle cx="231.7" cy="148.8" r="1.2" fill="#ff00ff"/><circle cx="233.6" cy="145.4" r="1.2" fill="#ff00ff"/><circle cx="235.5" cy="141.2" r="1.2" fill="#ff00ff"/><circle cx="237.4" cy="134.9" r="1.2" fill="#ff00ff"/><circle cx="239.3" cy="140.4" r="1.2" fill="#ff00ff"/><circle cx="241.3" cy="144.9" r="1.2" fill="#ff00ff"/><circle cx="243.2" cy="135.9" r="1.2" fill="#ff00ff"/><circle cx="245.1" cy="139.0" r="1.2" fill="#ff00ff"/><circle cx="247.0" cy="141.2" r="1.2" fill="#ff00ff"/><circle cx="248.9" cy="144.2" r="1.2" fill="#ff00ff"/><circle cx="250.9" cy="144.9" r="1.2" fill="#ff00ff"/><circle cx="252.8" cy="137.6" r="1.2" fill="#ff00ff"/><circle cx="254.7" cy="140.7" r="1.2" fill="#ff00ff"/><circle cx="256.6" cy="142.3" r="1.2" fill="#ff00ff"/><circle cx="258.5" cy="142.7" r="1.2" fill="#ff00ff"/><circle cx="260.5" cy="136.6" r="1.2" fill="#ff00ff"/><circle cx="262.4" cy="139.9" r="1.2" fill="#ff00ff"/><circle cx="264.3" cy="136.3" r="1.2" fill="#ff00ff"/><circle cx="266.2" cy="135.4" r="1.2" fill="#ff00ff"/><circle cx="268.1" cy="133.4" r="1.2" fill="#ff00ff"/><circle cx="304.6" cy="129.4" r="1.2" fill="#ff00ff"/><circle cx="306.5" cy="134.8" r="1.2" fill="#ff00ff"/><circle cx="308.5" cy="138.2" r="1.2" fill="#ff00ff"/><circle cx="310.4" cy="142.3" r="1.2" fill="#ff00ff"/><circle cx="312.3" cy="137.5" r="1.2" fill="#ff00ff"/><circle cx="314.2" cy="140.2" r="1.2" fill="#ff00ff"/><circle cx="316.1" cy="139.1" r="1.2" fill="#ff00ff"/><circle cx="318.1" cy="135.0" r="1.2" fill="#ff00ff"/><circle cx="320.0" cy="135.5" r="1.2" fill="#ff00ff"/><circle cx="321.9" cy="131.9" r="1.2" fill="#ff00ff"/><circle cx="323.8" cy="133.9" r="1.2" fill="#ff00ff"/><circle cx="325.7" cy="137.5" r="1.2" fill="#ff00ff"/><circle cx="327.7" cy="138.5" r="1.2" fill="#ff00ff"/><circle cx="329.6" cy="139.8" r="1.2" fill="#ff00ff"/><circle cx="331.5" cy="135.8" r="1.2" fill="#ff00ff"/><circle cx="333.4" cy="137.4" r="1.2" fill="#ff00ff"/><circle cx="335.3" cy="139.7" r="1.2" fill="#ff00ff"/><circle cx="337.3" cy="135.5" r="1.2" fill="#ff00ff"/><circle cx="339.2" cy="137.3" r="1.2" fill="#ff00ff"/><circle cx="341.1" cy="140.1" r="1.2" fill="#ff00ff"/><circle cx="343.0" cy="145.1" r="1.2" fill="#ff00ff"/><circle cx="344.9" cy="139.1" r="1.2" fill="#ff00ff"/><circle cx="346.9" cy="138.1" r="1.2" fill="#ff00ff"/><circle cx="348.8" cy="138.6" r="1.2" fill="#ff00ff"/><circle cx="350.7" cy="140.9" r="1.2" fill="#ff00ff"/><circle cx="352.6" cy="143.3" r="1.2" fill="#ff00ff"/><circle cx="354.5" cy="141.8" r="1.2" fill="#ff00ff"/><circle cx="356.5" cy="139.7" r="1.2" fill="#ff00ff"/><circle cx="358.4" cy="140.6" r="1.2" fill="#ff00ff"/><circle cx="360.3" cy="141.1" r="1.2" fill="#ff00ff"/><circle cx="362.2" cy="142.7" r="1.2" fill="#ff00ff"/><circle cx="364.1" cy="140.3" r="1.2" fill="#ff00ff"/><circle cx="366.1" cy="140.2" r="1.2" fill="#ff00ff"/><circle cx="368.0" cy="144.3" r="1.2" fill="#ff00ff"/><circle cx="369.9" cy="139.8" r="1.2" fill="#ff00ff"/><circle cx="371.8" cy="138.6" r="1.2" fill="#ff00ff"/><circle cx="373.7" cy="138.3" r="1.2" fill="#ff00ff"/><circle cx="375.7" cy="142.2" r="1.2" fill="#ff00ff"/><circle cx="377.6" cy="143.9" r="1.2" fill="#ff00ff"/><circle cx="379.5" cy="148.6" r="1.2" fill="#ff00ff"/><circle cx="381.4" cy="142.8" r="1.2" fill="#ff00ff"/><circle cx="383.3" cy="152.7" r="1.2" fill="#ff00ff"/><circle cx="385.3" cy="149.1" r="1.2" fill="#ff00ff"/><circle cx="387.2" cy="148.2" r="1.2" fill="#ff00ff"/><circle cx="389.1" cy="143.5" r="1.2" fill="#ff00ff"/><circle cx="391.0" cy="145.5" r="1.2" fill="#ff00ff"/><circle cx="393.0" cy="150.0" r="1.2" fill="#ff00ff"/><circle cx="394.9" cy="153.2" r="1.2" fill="#ff00ff"/><circle cx="396.8" cy="151.5" r="1.2" fill="#ff00ff"/><circle cx="398.7" cy="147.8" r="1.2" fill="#ff00ff"/><circle cx="400.6" cy="147.0" r="1.2" fill="#ff00ff"/><circle cx="402.6" cy="147.8" r="1.2" fill="#ff00ff"/><circle cx="404.5" cy="150.1" r="1.2" fill="#ff00ff"/><circle cx="406.4" cy="149.0" r="1.2" fill="#ff00ff"/><circle cx="408.3" cy="144.0" r="1.2" fill="#ff00ff"/><circle cx="410.2" cy="150.8" r="1.2" fill="#ff00ff"/><circle cx="412.2" cy="147.9" r="1.2" fill="#ff00ff"/><circle cx="414.1" cy="140.6" r="1.2" fill="#ff00ff"/><circle cx="416.0" cy="142.3" r="1.2" fill="#ff00ff"/><circle cx="417.9" cy="146.5" r="1.2" fill="#ff00ff"/><circle cx="419.8" cy="143.1" r="1.2" fill="#ff00ff"/><circle cx="421.8" cy="147.4" r="1.2" fill="#ff00ff"/><circle cx="423.7" cy="145.5" r="1.2" fill="#ff00ff"/><circle cx="425.6" cy="138.7" r="1.2" fill="#ff00ff"/><circle cx="427.5" cy="135.1" r="1.2" fill="#ff00ff"/><circle cx="429.4" cy="148.0" r="1.2" fill="#ff00ff"/><circle cx="431.4" cy="142.2" r="1.2" fill="#ff00ff"/><circle cx="433.3" cy="135.5" r="1.2" fill="#ff00ff"/><circle cx="435.2" cy="143.2" r="1.2" fill="#ff00ff"/><circle cx="437.1" cy="142.2" r="1.2" fill="#ff00ff"/><circle cx="439.0" cy="136.9" r="1.2" fill="#ff00ff"/><circle cx="441.0" cy="142.8" r="1.2" fill="#ff00ff"/><circle cx="442.9" cy="139.3" r="1.2" fill="#ff00ff"/><circle cx="444.8" cy="139.1" r="1.2" fill="#ff00ff"/><circle cx="446.7" cy="145.8" r="1.2" fill="#ff00ff"/><circle cx="448.6" cy="139.2" r="1.2" fill="#ff00ff"/><circle cx="450.6" cy="139.3" r="1.2" fill="#ff00ff"/><circle cx="452.5" cy="135.0" r="1.2" fill="#ff00ff"/><circle cx="454.4" cy="130.6" r="1.2" fill="#ff00ff"/><circle cx="456.3" cy="136.3" r="1.2" fill="#ff00ff"/><circle cx="458.2" cy="143.0" r="1.2" fill="#ff00ff"/><circle cx="460.2" cy="141.8" r="1.2" fill="#ff00ff"/><circle cx="462.1" cy="142.8" r="1.2" fill="#ff00ff"/><circle cx="464.0" cy="140.1" r="1.2" fill="#ff00ff"/><circle cx="269.6" cy="122.3" r="1.2" fill="#ff00ff"/><circle cx="271.5" cy="125.5" r="1.2" fill="#ff00ff"/><circle cx="273.2" cy="132.9" r="1.2" fill="#ff00ff"/><circle cx="274.7" cy="120.3" r="1.2" fill="#ff00ff"/><circle cx="276.6" cy="121.6" r="1.2" fill="#ff00ff"/><circle cx="278.5" cy="127.0" r="1.2" fill="#ff00ff"/><circle cx="280.5" cy="112.9" r="1.2" fill="#ff00ff"/><circle cx="282.4" cy="119.1" r="1.2" fill="#ff00ff"/><circle cx="284.3" cy="130.6" r="1.2" fill="#ff00ff"/><circle cx="286.2" cy="128.0" r="1.2" fill="#ff00ff"/><circle cx="288.2" cy="122.2" r="1.2" fill="#ff00ff"/><circle cx="290.1" cy="123.5" r="1.2" fill="#ff00ff"/><circle cx="292.0" cy="119.8" r="1.2" fill="#ff00ff"/><circle cx="293.7" cy="121.1" r="1.2" fill="#ff00ff"/><circle cx="295.5" cy="122.9" r="1.2" fill="#ff00ff"/><circle cx="297.3" cy="125.5" r="1.2" fill="#ff00ff"/><circle cx="299.8" cy="126.2" r="1.2" fill="#ff00ff"/><circle cx="302.3" cy="123.4" r="1.2" fill="#ff00ff"/><circle cx="68.8" cy="132.2" r="1.2" fill="#ff00ff"/><circle cx="105.1" cy="131.3" r="1.2" fill="#ff00ff"/><circle cx="92.9" cy="135.9" r="1.2" fill="#ff00ff"/><circle cx="72.4" cy="156.9" r="1.2" fill="#ff00ff"/><circle cx="110.8" cy="154.7" r="1.2" fill="#ff00ff"/><circle cx="57.4" cy="150.0" r="1.2" fill="#ff00ff"/><circle cx="58.3" cy="154.0" r="1.2" fill="#ff00ff"/><circle cx="60.0" cy="151.8" r="1.2" fill="#ff00ff"/><circle cx="140.0" cy="133.0" r="1.2" fill="#ff00ff"/><circle cx="187.4" cy="127.6" r="1.2" fill="#ff00ff"/><circle cx="172.9" cy="131.3" r="1.2" fill="#ff00ff"/><circle cx="148.5" cy="150.9" r="1.2" fill="#ff00ff"/><circle cx="220.2" cy="128.9" r="1.2" fill="#ff00ff"/><circle cx="221.9" cy="130.6" r="1.2" fill="#ff00ff"/></g><g><circle cx="56.9" cy="147.1" r="1.2" fill="#808000"/><circle cx="58.9" cy="148.2" r="1.2" fill="#808000"/><circle cx="60.8" cy="151.6" r="1.2" fill="#808000"/><circle cx="62.7" cy="144.1" r="1.2" fill="#808000"/><circle cx="64.6" cy="143.2" r="1.2" fill="#808000"/><circle cx="66.5" cy="144.9" r="1.2" fill="#808000"/><circle cx="68.5" cy="146.0" r="1.2" fill="#808000"/><circle cx="70.4" cy="145.9" r="1.2" fill="#808000"/><circle cx="72.3" cy="147.1" r="1.2" fill="#808000"/><circle cx="74.2" cy="145.5" r="1.2" fill="#808000"/><circle cx="76.1" cy="145.5" r="1.2" fill="#808000"/><circle cx="78.1" cy="139.2" r="1.2" fill="#808000"/><circle cx="80.0" cy="140.3" r="1.2" fill="#808000"/><circle cx="81.9" cy="144.6" r="1.2" fill="#808000"/><circle cx="83.8" cy="145.6" r="1.2" fill="#808000"/><circle cx="85.7" cy="140.0" r="1.2" fill="#808000"/><circle cx="87.7" cy="140.3" r="1.2" fill="#808000"/><circle cx="89.6" cy="141.0" r="1.2" fill="#808000"/><circle cx="91.5" cy="139.8" r="1.2" fill="#808000"/><circle cx="93.4" cy="136.5" r="1.2" fill="#808000"/><circle cx="95.3" cy="144.6" r="1.2" fill="#808000"/><circle cx="97.3" cy="146.3" r="1.2" fill="#808000"/><circle cx="99.2" cy="150.4" r="1.2" fill="#808000"/><circle cx="101.1" cy="144.5" r="1.2" fill="#808000"/><circle cx="103.0" cy="145.1" r="1.2" fill="#808000"/><circle cx="104.9" cy="146.4" r="1.2" fill="#808000"/><circle cx="106.9" cy="147.2" r="1.2" fill="#808000"/><circle cx="108.8" cy="142.7" r="1.2" fill="#808000"/><circle cx="110.7" cy="143.7" r="1.2" fill="#808000"/><circle cx="112.6" cy="145.4" r="1.2" fill="#808000"/><circle cx="114.5" cy="140.1" r="1.2" fill="#808000"/><circle cx="116.5" cy="145.8" r="1.2" fill="#808000"/><circle cx="118.4" cy="148.8" r="1.2" fill="#808000"/><circle cx="120.3" cy="137.1" r="1.2" fill="#808000"/><circle cx="122.2" cy="142.4" r="1.2" fill="#808000"/><circle cx="124.1" cy="145.1" r="1.2" fill="#808000"/><circle cx="126.1" cy="146.9" r="1.2" fill="#808000"/><circle cx="128.0" cy="145.7" r="1.2" fill="#808000"/><circle cx="129.9" cy="142.2" r="1.2" fill="#808000"/><circle cx="131.8" cy="140.9" r="1.2" fill="#808000"/><circle cx="133.7" cy="141.2" r="1.2" fill="#808000"/><circle cx="135.7" cy="144.2" r="1.2" fill="#808000"/><circle cx="137.6" cy="149.5" r="1.2" fill="#808000"/><circle cx="139.5" cy="145.7" r="1.2" fill="#808000"/><circle cx="141.4" cy="140.1" r="1.2" fill="#808000"/><circle cx="143.3" cy="139.5" r="1.2" fill="#808000"/><circle cx="145.3" cy="143.4" r="1.2" fill="#808000"/><circle cx="147.2" cy="141.8" r="1.2" fill="#808000"/><circle cx="149.1" cy="145.2" r="1.2" fill="#808000"/><circle cx="151.0" cy="145.6" r="1.2" fill="#808000"/><circle cx="152.9" cy="149.9" r="1.2" fill="#808000"/><circle cx="154.9" cy="148.9" r="1.2" fill="#808000"/><circle cx="156.8" cy="147.2" r="1.2" fill="#808000"/><circle cx="158.7" cy="147.9" r="1.2" fill="#808000"/><circle cx="160.6" cy="145.2" r="1.2" fill="#808000"/><circle cx="162.5" cy="140.7" r="1.2" fill="#808000"/><circle cx="164.5" cy="141.0" r="1.2" fill="#808000"/><circle cx="166.4" cy="146.9" r="1.2" fill="#808000"/><circle cx="168.3" cy="151.0" r="1.2" fill="#808000"/><circle cx="170.2" cy="152.6" r="1.2" fill="#808000"/><circle cx="172.1" cy="154.6" r="1.2" fill="#808000"/><circle cx="174.1" cy="151.9" r="1.2" fill="#808000"/><circle cx="176.0" cy="149.4" r="1.2" fill="#808000"/><circle cx="177.9" cy="149.3" r="1.2" fill="#808000"/><circle cx="179.8" cy="149.2" r="1.2" fill="#808000"/><circle cx="181.7" cy="149.2" r="1.2" fill="#808000"/><circle cx="183.7" cy="150.3" r="1.2" fill="#808000"/><circle cx="185.6" cy="152.7" r="1.2" fill="#808000"/><circle cx="187.5" cy="145.0" r="1.2" fill="#808000"/><circle cx="189.4" cy="143.9" r="1.2" fill="#808000"/><circle cx="191.3" cy="149.8" r="1.2" fill="#808000"/><circle cx="193.3" cy="151.8" r="1.2" fill="#808000"/><circle cx="195.2" cy="151.3" r="1.2" fill="#808000"/><circle cx="197.1" cy="148.8" r="1.2" fill="#808000"/><circle cx="199.0" cy="143.3" r="1.2" fill="#808000"/><circle cx="200.9" cy="143.2" r="1.2" fill="#808000"/><circle cx="202.9" cy="143.9" r="1.2" fill="#808000"/><circle cx="204.8" cy="144.9" r="1.2" fill="#808000"/><circle cx="206.7" cy="147.6" r="1.2" fill="#808000"/><circle cx="208.6" cy="149.8" r="1.2" fill="#808000"/><circle cx="210.5" cy="152.2" r="1.2" fill="#808000"/><circle cx="212.5" cy="155.5" r="1.2" fill="#808000"/><circle cx="214.4" cy="161.6" r="1.2" fill="#808000"/><circle cx="216.3" cy="160.6" r="1.2" fill="#808000"/><circle cx="218.2" cy="156.0" r="1.2" fill="#808000"/><circle cx="220.1" cy="160.9" r="1.2" fill="#808000"/><circle cx="222.1" cy="163.8" r="1.2" fill="#808000"/><circle cx="224.0" cy="160.2" r="1.2" fill="#808000"/><circle cx="225.9" cy="159.7" r="1.2" fill="#808000"/><circle cx="227.8" cy="160.0" r="1.2" fill="#808000"/><circle cx="229.7" cy="154.1" r="1.2" fill="#808000"/><circle cx="231.7" cy="153.2" r="1.2" fill="#808000"/><circle cx="233.6" cy="151.7" r="1.2" fill="#808000"/><circle cx="235.5" cy="154.4" r="1.2" fill="#808000"/><circle cx="237.4" cy="152.3" r="1.2" fill="#808000"/><circle cx="239.3" cy="151.4" r="1.2" fill="#808000"/><circle cx="241.3" cy="149.6" r="1.2" fill="#808000"/><circle cx="243.2" cy="147.5" r="1.2" fill="#808000"/><circle cx="245.1" cy="146.4" r="1.2" fill="#808000"/><circle cx="247.0" cy="148.0" r="1.2" fill="#808000"/><circle cx="248.9" cy="147.7" r="1.2" fill="#808000"/><circle cx="250.9" cy="152.4" r="1.2" fill="#808000"/><circle cx="252.8" cy="149.7" r="1.2" fill="#808000"/><circle cx="254.7" cy="148.7" r="1.2" fill="#808000"/><circle cx="256.6" cy="151.1" r="1.2" fill="#808000"/><circle cx="258.5" cy="153.8" r="1.2" fill="#808000"/><circle cx="260.5" cy="153.8" r="1.2" fill="#808000"/><circle cx="262.4" cy="157.3" r="1.2" fill="#808000"/><circle cx="264.3" cy="155.4" r="1.2" fill="#808000"/><circle cx="266.2" cy="155.4" r="1.2" fill="#808000"/><circle cx="268.1" cy="158.8" r="1.2" fill="#808000"/><circle cx="270.1" cy="157.6" r="1.2" fill="#808000"/><circle cx="272.0" cy="154.7" r="1.2" fill="#808000"/><circle cx="273.9" cy="153.6" r="1.2" fill="#808000"/><circle cx="275.8" cy="153.5" r="1.2" fill="#808000"/><circle cx="277.7" cy="156.5" r="1.2" fill="#808000"/><circle cx="279.7" cy="158.3" r="1.2" fill="#808000"/><circle cx="281.6" cy="159.4" r="1.2" fill="#808000"/><circle cx="283.5" cy="157.5" r="1.2" fill="#808000"/><circle cx="285.4" cy="152.5" r="1.2" fill="#808000"/><circle cx="287.3" cy="153.1" r="1.2" fill="#808000"/><circle cx="289.3" cy="153.1" r="1.2" fill="#808000"/><circle cx="291.2" cy="153.9" r="1.2" fill="#808000"/><circle cx="293.1" cy="161.9" r="1.2" fill="#808000"/><circle cx="295.0" cy="161.7" r="1.2" fill="#808000"/><circle cx="296.9" cy="162.2" r="1.2" fill="#808000"/><circle cx="298.9" cy="158.1" r="1.2" fill="#808000"/><circle cx="300.8" cy="155.4" r="1.2" fill="#808000"/><circle cx="302.7" cy="160.4" r="1.2" fill="#808000"/><circle cx="304.6" cy="160.7" r="1.2" fill="#808000"/><circle cx="306.5" cy="159.5" r="1.2" fill="#808000"/><circle cx="308.5" cy="161.8" r="1.2" fill="#808000"/><circle cx="310.4" cy="163.1" r="1.2" fill="#808000"/><circle cx="312.3" cy="163.8" r="1.2" fill="#808000"/><circle cx="314.2" cy="160.1" r="1.2" fill="#808000"/><circle cx="316.1" cy="163.3" r="1.2" fill="#808000"/><circle cx="318.1" cy="159.4" r="1.2" fill="#808000"/><circle cx="320.0" cy="160.6" r="1.2" fill="#808000"/><circle cx="321.9" cy="159.4" r="1.2" fill="#808000"/><circle cx="323.8" cy="157.0" r="1.2" fill="#808000"/><circle cx="325.7" cy="161.7" r="1.2" fill="#808000"/><circle cx="327.7" cy="164.0" r="1.2" fill="#808000"/><circle cx="329.6" cy="161.8" r="1.2" fill="#808000"/><circle cx="331.5" cy="164.6" r="1.2" fill="#808000"/><circle cx="333.4" cy="164.9" r="1.2" fill="#808000"/><circle cx="335.3" cy="163.5" r="1.2" fill="#808000"/><circle cx="337.3" cy="162.2" r="1.2" fill="#808000"/><circle cx="339.2" cy="165.3" r="1.2" fill="#808000"/><circle cx="341.1" cy="164.3" r="1.2" fill="#808000"/><circle cx="343.0" cy="161.5" r="1.2" fill="#808000"/><circle cx="344.9" cy="158.4" r="1.2" fill="#808000"/><circle cx="346.9" cy="165.6" r="1.2" fill="#808000"/><circle cx="348.8" cy="160.2" r="1.2" fill="#808000"/><circle cx="350.7" cy="159.1" r="1.2" fill="#808000"/><circle cx="352.6" cy="163.6" r="1.2" fill="#808000"/><circle cx="354.5" cy="166.4" r="1.2" fill="#808000"/><circle cx="356.5" cy="162.8" r="1.2" fill="#808000"/><circle cx="358.4" cy="163.4" r="1.2" fill="#808000"/><circle cx="360.3" cy="162.3" r="1.2" fill="#808000"/><circle cx="362.2" cy="160.0" r="1.2" fill="#808000"/><circle cx="364.1" cy="162.2" r="1.2" fill="#808000"/><circle cx="366.1" cy="161.8" r="1.2" fill="#808000"/><circle cx="368.0" cy="160.9" r="1.2" fill="#808000"/><circle cx="369.9" cy="159.6" r="1.2" fill="#808000"/><circle cx="371.8" cy="156.8" r="1.2" fill="#808000"/><circle cx="373.7" cy="155.9" r="1.2" fill="#808000"/><circle cx="375.7" cy="159.3" r="1.2" fill="#808000"/><circle cx="377.6" cy="162.0" r="1.2" fill="#808000"/><circle cx="379.5" cy="156.4" r="1.2" fill="#808000"/><circle cx="381.4" cy="158.7" r="1.2" fill="#808000"/><circle cx="383.3" cy="160.1" r="1.2" fill="#808000"/><circle cx="385.3" cy="164.4" r="1.2" fill="#808000"/><circle cx="387.2" cy="161.3" r="1.2" fill="#808000"/><circle cx="389.1" cy="164.0" r="1.2" fill="#808000"/><circle cx="391.0" cy="164.1" r="1.2" fill="#808000"/><circle cx="393.0" cy="166.4" r="1.2" fill="#808000"/><circle cx="394.9" cy="165.1" r="1.2" fill="#808000"/><circle cx="396.8" cy="163.1" r="1.2" fill="#808000"/><circle cx="398.7" cy="166.2" r="1.2" fill="#808000"/><circle cx="400.6" cy="165.8" r="1.2" fill="#808000"/><circle cx="402.6" cy="163.5" r="1.2" fill="#808000"/><circle cx="404.5" cy="165.5" r="1.2" fill="#808000"/><circle cx="406.4" cy="166.2" r="1.2" fill="#808000"/><circle cx="408.3" cy="165.4" r="1.2" fill="#808000"/><circle cx="410.2" cy="166.5" r="1.2" fill="#808000"/><circle cx="412.2" cy="161.6" r="1.2" fill="#808000"/><circle cx="414.1" cy="163.7" r="1.2" fill="#808000"/><circle cx="416.0" cy="160.0" r="1.2" fill="#808000"/><circle cx="417.9" cy="158.0" r="1.2" fill="#808000"/><circle cx="419.8" cy="162.5" r="1.2" fill="#808000"/><circle cx="421.8" cy="161.1" r="1.2" fill="#808000"/><circle cx="423.7" cy="161.7" r="1.2" fill="#808000"/><circle cx="425.6" cy="163.6" r="1.2" fill="#808000"/><circle cx="427.5" cy="162.2" r="1.2" fill="#808000"/><circle cx="429.4" cy="161.3" r="1.2" fill="#808000"/><circle cx="431.4" cy="158.3" r="1.2" fill="#808000"/><circle cx="433.3" cy="156.2" r="1.2" fill="#808000"/><circle cx="435.2" cy="160.5" r="1.2" fill="#808000"/><circle cx="437.1" cy="160.3" r="1.2" fill="#808000"/><circle cx="439.0" cy="157.7" r="1.2" fill="#808000"/><circle cx="441.0" cy="154.8" r="1.2" fill="#808000"/><circle cx="442.9" cy="162.7" r="1.2" fill="#808000"/><circle cx="444.8" cy="156.2" r="1.2" fill="#808000"/><circle cx="446.7" cy="157.1" r="1.2" fill="#808000"/><circle cx="448.6" cy="152.9" r="1.2" fill="#808000"/><circle cx="450.6" cy="156.1" r="1.2" fill="#808000"/><circle cx="452.5" cy="158.4" r="1.2" fill="#808000"/><circle cx="454.4" cy="157.2" r="1.2" fill="#808000"/><circle cx="456.3" cy="153.8" r="1.2" fill="#808000"/><circle cx="458.2" cy="155.4" r="1.2" fill="#808000"/><circle cx="460.2" cy="162.1" r="1.2" fill="#808000"/><circle cx="462.1" cy="157.0" r="1.2" fill="#808000"/><circle cx="464.0" cy="160.8" r="1.2" fill="#808000"/><circle cx="87.2" cy="154.0" r="1.2" fill="#808000"/><circle cx="90.6" cy="153.5" r="1.2" fill="#808000"/><circle cx="129.0" cy="153.0" r="1.2" fill="#808000"/><circle cx="214.2" cy="127.2" r="1.2" fill="#808000"/><circle cx="216.5" cy="167.0" r="1.2" fill="#808000"/></g><g><circle cx="56.9" cy="144.6" r="1.2" fill="#ff8000"/><circle cx="58.9" cy="146.3" r="1.2" fill="#ff8000"/><circle cx="60.8" cy="148.8" r="1.2" fill="#ff8000"/><circle cx="62.7" cy="148.7" r="1.2" fill="#ff8000"/><circle cx="64.6" cy="148.1" r="1.2" fill="#ff8000"/><circle cx="66.5" cy="146.9" r="1.2" fill="#ff8000"/><circle cx="68.5" cy="145.0" r="1.2" fill="#ff8000"/><circle cx="70.4" cy="144.8" r="1.2" fill="#ff8000"/><circle cx="72.3" cy="147.5" r="1.2" fill="#ff8000"/><circle cx="74.2" cy="145.8" r="1.2" fill="#ff8000"/><circle cx="76.1" cy="142.2" r="1.2" fill="#ff8000"/><circle cx="78.1" cy="140.5" r="1.2" fill="#ff8000"/><circle cx="80.0" cy="141.7" r="1.2" fill="#ff8000"/><circle cx="81.9" cy="141.1" r="1.2" fill="#ff8000"/><circle cx="83.8" cy="140.2" r="1.2" fill="#ff8000"/><circle cx="85.7" cy="138.7" r="1.2" fill="#ff8000"/><circle cx="87.7" cy="137.2" r="1.2" fill="#ff8000"/><circle cx="89.6" cy="141.3" r="1.2" fill="#ff8000"/><circle cx="91.5" cy="143.3" r="1.2" fill="#ff8000"/><circle cx="93.4" cy="140.0" r="1.2" fill="#ff8000"/><circle cx="95.3" cy="138.2" r="1.2" fill="#ff8000"/><circle cx="97.3" cy="137.4" r="1.2" fill="#ff8000"/><circle cx="99.2" cy="146.2" r="1.2" fill="#ff8000"/><circle cx="101.1" cy="145.6" r="1.2" fill="#ff8000"/><circle cx="103.0" cy="152.5" r="1.2" fill="#ff8000"/><circle cx="104.9" cy="146.4" r="1.2" fill="#ff8000"/><circle cx="106.9" cy="145.0" r="1.2" fill="#ff8000"/><circle cx="108.8" cy="144.3" r="1.2" fill="#ff8000"/><circle cx="110.7" cy="144.4" r="1.2" fill="#ff8000"/><circle cx="112.6" cy="141.0" r="1.2" fill="#ff8000"/><circle cx="114.5" cy="143.1" r="1.2" fill="#ff8000"/><circle cx="116.5" cy="141.0" r="1.2" fill="#ff8000"/><circle cx="118.4" cy="141.1" r="1.2" fill="#ff8000"/><circle cx="120.3" cy="141.6" r="1.2" fill="#ff8000"/><circle cx="122.2" cy="141.6" r="1.2" fill="#ff8000"/><circle cx="124.1" cy="142.5" r="1.2" fill="#ff8000"/><circle cx="126.1" cy="145.8" r="1.2" fill="#ff8000"/><circle cx="128.0" cy="143.1" r="1.2" fill="#ff8000"/><circle cx="129.9" cy="141.8" r="1.2" fill="#ff8000"/><circle cx="131.8" cy="143.2" r="1.2" fill="#ff8000"/><circle cx="133.7" cy="141.8" r="1.2" fill="#ff8000"/><circle cx="135.7" cy="140.7" r="1.2" fill="#ff8000"/><circle cx="137.6" cy="145.3" r="1.2" fill="#ff8000"/><circle cx="139.5" cy="144.9" r="1.2" fill="#ff8000"/><circle cx="141.4" cy="145.4" r="1.2" fill="#ff8000"/><circle cx="143.3" cy="146.8" r="1.2" fill="#ff8000"/><circle cx="145.3" cy="144.6" r="1.2" fill="#ff8000"/><circle cx="147.2" cy="146.2" r="1.2" fill="#ff8000"/><circle cx="149.1" cy="146.1" r="1.2" fill="#ff8000"/><circle cx="151.0" cy="144.4" r="1.2" fill="#ff8000"/><circle cx="152.9" cy="143.3" r="1.2" fill="#ff8000"/><circle cx="154.9" cy="142.8" r="1.2" fill="#ff8000"/><circle cx="156.8" cy="138.0" r="1.2" fill="#ff8000"/><circle cx="158.7" cy="142.1" r="1.2" fill="#ff8000"/><circle cx="160.6" cy="142.3" r="1.2" fill="#ff8000"/><circle cx="162.5" cy="145.8" r="1.2" fill="#ff8000"/><circle cx="164.5" cy="143.5" r="1.2" fill="#ff8000"/><circle cx="166.4" cy="140.7" r="1.2" fill="#ff8000"/><circle cx="168.3" cy="139.1" r="1.2" fill="#ff8000"/><circle cx="170.2" cy="142.7" r="1.2" fill="#ff8000"/><circle cx="172.1" cy="143.6" r="1.2" fill="#ff8000"/><circle cx="174.1" cy="140.3" r="1.2" fill="#ff8000"/><circle cx="176.0" cy="141.8" r="1.2" fill="#ff8000"/><circle cx="177.9" cy="140.1" r="1.2" fill="#ff8000"/><circle cx="179.8" cy="143.7" r="1.2" fill="#ff8000"/><circle cx="181.7" cy="139.9" r="1.2" fill="#ff8000"/><circle cx="183.7" cy="138.8" r="1.2" fill="#ff8000"/><circle cx="185.6" cy="139.5" r="1.2" fill="#ff8000"/><circle cx="187.5" cy="142.9" r="1.2" fill="#ff8000"/><circle cx="189.4" cy="143.0" r="1.2" fill="#ff8000"/><circle cx="191.3" cy="142.2" r="1.2" fill="#ff8000"/><circle cx="193.3" cy="141.5" r="1.2" fill="#ff8000"/><circle cx="195.2" cy="141.8" r="1.2" fill="#ff8000"/><circle cx="197.1" cy="142.0" r="1.2" fill="#ff8000"/><circle cx="199.0" cy="141.0" r="1.2" fill="#ff8000"/><circle cx="200.9" cy="137.5" r="1.2" fill="#ff8000"/><circle cx="202.9" cy="143.7" r="1.2" fill="#ff8000"/><circle cx="204.8" cy="144.1" r="1.2" fill="#ff8000"/><circle cx="206.7" cy="143.2" r="1.2" fill="#ff8000"/><circle cx="208.6" cy="140.6" r="1.2" fill="#ff8000"/><circle cx="210.5" cy="141.5" r="1.2" fill="#ff8000"/><circle cx="212.5" cy="137.6" r="1.2" fill="#ff8000"/><circle cx="214.4" cy="136.6" r="1.2" fill="#ff8000"/><circle cx="216.3" cy="136.8" r="1.2" fill="#ff8000"/><circle cx="218.2" cy="137.8" r="1.2" fill="#ff8000"/><circle cx="220.1" cy="136.5" r="1.2" fill="#ff8000"/><circle cx="222.1" cy="135.6" r="1.2" fill="#ff8000"/><circle cx="224.0" cy="134.7" r="1.2" fill="#ff8000"/><circle cx="225.9" cy="136.4" r="1.2" fill="#ff8000"/><circle cx="227.8" cy="134.2" r="1.2" fill="#ff8000"/><circle cx="229.7" cy="137.4" r="1.2" fill="#ff8000"/><circle cx="231.7" cy="133.3" r="1.2" fill="#ff8000"/><circle cx="233.6" cy="140.1" r="1.2" fill="#ff8000"/><circle cx="235.5" cy="138.4" r="1.2" fill="#ff8000"/><circle cx="237.4" cy="138.9" r="1.2" fill="#ff8000"/><circle cx="239.3" cy="135.0" r="1.2" fill="#ff8000"/><circle cx="241.3" cy="137.7" r="1.2" fill="#ff8000"/><circle cx="243.2" cy="132.3" r="1.2" fill="#ff8000"/><circle cx="245.1" cy="136.5" r="1.2" fill="#ff8000"/><circle cx="247.0" cy="131.3" r="1.2" fill="#ff8000"/><circle cx="248.9" cy="132.0" r="1.2" fill="#ff8000"/><circle cx="250.9" cy="133.3" r="1.2" fill="#ff8000"/><circle cx="252.8" cy="133.1" r="1.2" fill="#ff8000"/><circle cx="254.7" cy="129.5" r="1.2" fill="#ff8000"/><circle cx="256.6" cy="130.4" r="1.2" fill="#ff8000"/><circle cx="258.5" cy="137.4" r="1.2" fill="#ff8000"/><circle cx="260.5" cy="133.9" r="1.2" fill="#ff8000"/><circle cx="262.4" cy="134.1" r="1.2" fill="#ff8000"/><circle cx="264.3" cy="138.1" r="1.2" fill="#ff8000"/><circle cx="266.2" cy="135.3" r="1.2" fill="#ff8000"/><circle cx="268.1" cy="138.0" r="1.2" fill="#ff8000"/><circle cx="270.1" cy="136.5" r="1.2" fill="#ff8000"/><circle cx="272.0" cy="135.7" r="1.2" fill="#ff8000"/><circle cx="273.9" cy="137.2" r="1.2" fill="#ff8000"/><circle cx="275.8" cy="135.1" r="1.2" fill="#ff8000"/><circle cx="277.7" cy="137.4" r="1.2" fill="#ff8000"/><circle cx="279.7" cy="136.0" r="1.2" fill="#ff8000"/><circle cx="281.6" cy="136.7" r="1.2" fill="#ff8000"/><circle cx="283.5" cy="136.3" r="1.2" fill="#ff8000"/><circle cx="285.4" cy="131.6" r="1.2" fill="#ff8000"/><circle cx="287.3" cy="133.0" r="1.2" fill="#ff8000"/><circle cx="289.3" cy="136.0" r="1.2" fill="#ff8000"/><circle cx="291.2" cy="135.5" r="1.2" fill="#ff8000"/><circle cx="293.1" cy="136.5" r="1.2" fill="#ff8000"/><circle cx="295.0" cy="135.4" r="1.2" fill="#ff8000"/><circle cx="296.9" cy="134.8" r="1.2" fill="#ff8000"/><circle cx="298.9" cy="134.8" r="1.2" fill="#ff8000"/><circle cx="300.8" cy="134.9" r="1.2" fill="#ff8000"/><circle cx="302.7" cy="136.3" r="1.2" fill="#ff8000"/><circle cx="304.6" cy="135.1" r="1.2" fill="#ff8000"/><circle cx="306.5" cy="133.4" r="1.2" fill="#ff8000"/><circle cx="308.5" cy="136.1" r="1.2" fill="#ff8000"/><circle cx="310.4" cy="136.4" r="1.2" fill="#ff8000"/><circle cx="312.3" cy="136.4" r="1.2" fill="#ff8000"/><circle cx="314.2" cy="134.0" r="1.2" fill="#ff8000"/><circle cx="316.1" cy="133.6" r="1.2" fill="#ff8000"/><circle cx="318.1" cy="137.6" r="1.2" fill="#ff8000"/><circle cx="320.0" cy="138.2" r="1.2" fill="#ff8000"/><circle cx="321.9" cy="142.1" r="1.2" fill="#ff8000"/><circle cx="323.8" cy="143.3" r="1.2" fill="#ff8000"/><circle cx="325.7" cy="142.2" r="1.2" fill="#ff8000"/><circle cx="327.7" cy="140.7" r="1.2" fill="#ff8000"/><circle cx="329.6" cy="139.2" r="1.2" fill="#ff8000"/><circle cx="331.5" cy="140.7" r="1.2" fill="#ff8000"/><circle cx="333.4" cy="143.5" r="1.2" fill="#ff8000"/><circle cx="335.3" cy="141.1" r="1.2" fill="#ff8000"/><circle cx="337.3" cy="141.0" r="1.2" fill="#ff8000"/><circle cx="339.2" cy="139.6" r="1.2" fill="#ff8000"/><circle cx="341.1" cy="139.4" r="1.2" fill="#ff8000"/><circle cx="343.0" cy="137.6" r="1.2" fill="#ff8000"/><circle cx="344.9" cy="136.1" r="1.2" fill="#ff8000"/><circle cx="346.9" cy="134.4" r="1.2" fill="#ff8000"/><circle cx="348.8" cy="135.7" r="1.2" fill="#ff8000"/><circle cx="350.7" cy="132.9" r="1.2" fill="#ff8000"/><circle cx="352.6" cy="134.3" r="1.2" fill="#ff8000"/><circle cx="354.5" cy="134.4" r="1.2" fill="#ff8000"/><circle cx="356.5" cy="131.0" r="1.2" fill="#ff8000"/><circle cx="358.4" cy="132.5" r="1.2" fill="#ff8000"/><circle cx="360.3" cy="136.5" r="1.2" fill="#ff8000"/><circle cx="362.2" cy="133.2" r="1.2" fill="#ff8000"/><circle cx="364.1" cy="132.5" r="1.2" fill="#ff8000"/><circle cx="366.1" cy="131.3" r="1.2" fill="#ff8000"/><circle cx="368.0" cy="132.4" r="1.2" fill="#ff8000"/><circle cx="369.9" cy="132.4" r="1.2" fill="#ff8000"/><circle cx="371.8" cy="133.3" r="1.2" fill="#ff8000"/><circle cx="373.7" cy="132.2" r="1.2" fill="#ff8000"/><circle cx="375.7" cy="125.0" r="1.2" fill="#ff8000"/><circle cx="377.6" cy="128.9" r="1.2" fill="#ff8000"/><circle cx="379.5" cy="132.0" r="1.2" fill="#ff8000"/><circle cx="381.4" cy="134.4" r="1.2" fill="#ff8000"/><circle cx="383.3" cy="131.9" r="1.2" fill="#ff8000"/><circle cx="385.3" cy="132.8" r="1.2" fill="#ff8000"/><circle cx="387.2" cy="135.9" r="1.2" fill="#ff8000"/><circle cx="389.1" cy="137.0" r="1.2" fill="#ff8000"/><circle cx="391.0" cy="137.9" r="1.2" fill="#ff8000"/><circle cx="393.0" cy="138.9" r="1.2" fill="#ff8000"/><circle cx="394.9" cy="145.0" r="1.2" fill="#ff8000"/><circle cx="396.8" cy="143.1" r="1.2" fill="#ff8000"/><circle cx="398.7" cy="144.9" r="1.2" fill="#ff8000"/><circle cx="400.6" cy="146.8" r="1.2" fill="#ff8000"/><circle cx="402.6" cy="146.7" r="1.2" fill="#ff8000"/><circle cx="404.5" cy="144.2" r="1.2" fill="#ff8000"/><circle cx="406.4" cy="140.9" r="1.2" fill="#ff8000"/><circle cx="408.3" cy="142.4" r="1.2" fill="#ff8000"/><circle cx="410.2" cy="142.3" r="1.2" fill="#ff8000"/><circle cx="412.2" cy="144.5" r="1.2" fill="#ff8000"/><circle cx="414.1" cy="143.0" r="1.2" fill="#ff8000"/><circle cx="416.0" cy="141.7" r="1.2" fill="#ff8000"/><circle cx="417.9" cy="143.2" r="1.2" fill="#ff8000"/><circle cx="419.8" cy="142.3" r="1.2" fill="#ff8000"/><circle cx="421.8" cy="138.7" r="1.2" fill="#ff8000"/><circle cx="423.7" cy="138.3" r="1.2" fill="#ff8000"/><circle cx="425.6" cy="137.4" r="1.2" fill="#ff8000"/><circle cx="427.5" cy="135.6" r="1.2" fill="#ff8000"/><circle cx="429.4" cy="137.1" r="1.2" fill="#ff8000"/><circle cx="431.4" cy="133.0" r="1.2" fill="#ff8000"/><circle cx="433.3" cy="130.5" r="1.2" fill="#ff8000"/><circle cx="435.2" cy="128.7" r="1.2" fill="#ff8000"/><circle cx="437.1" cy="130.6" r="1.2" fill="#ff8000"/><circle cx="439.0" cy="129.1" r="1.2" fill="#ff8000"/><circle cx="441.0" cy="129.3" r="1.2" fill="#ff8000"/><circle cx="442.9" cy="128.5" r="1.2" fill="#ff8000"/><circle cx="444.8" cy="128.3" r="1.2" fill="#ff8000"/><circle cx="446.7" cy="129.3" r="1.2" fill="#ff8000"/><circle cx="448.6" cy="132.9" r="1.2" fill="#ff8000"/><circle cx="450.6" cy="135.9" r="1.2" fill="#ff8000"/><circle cx="452.5" cy="137.0" r="1.2" fill="#ff8000"/><circle cx="454.4" cy="137.3" r="1.2" fill="#ff8000"/><circle cx="456.3" cy="136.4" r="1.2" fill="#ff8000"/><circle cx="458.2" cy="134.5" r="1.2" fill="#ff8000"/><circle cx="460.2" cy="136.6" r="1.2" fill="#ff8000"/><circle cx="462.1" cy="136.6" r="1.2" fill="#ff8000"/><circle cx="464.0" cy="137.9" r="1.2" fill="#ff8000"/><circle cx="107.4" cy="127.6" r="1.2" fill="#ff8000"/><circle cx="101.7" cy="155.2" r="1.2" fill="#ff8000"/><circle cx="103.8" cy="153.5" r="1.2" fill="#ff8000"/><circle cx="174.9" cy="152.6" r="1.2" fill="#ff8000"/></g><path d="M50.1 302.30H56.6M53.4 286.46H56.6M50.1 270.61H56.6M53.4 254.77H56.6M50.1 238.92H56.6M53.4 223.08H56.6M50.1 207.23H56.6M53.4 191.39H56.6M50.1 175.54H56.6M53.4 159.70H56.6M50.1 143.85H56.6M53.4 128.01H56.6M50.1 112.16H56.6M53.4 96.32H56.6M50.1 80.47H56.6M53.4 64.63H56.6M50.1 48.78H56.6M53.4 32.94H56.6M50.1 17.09H56.6M53.4 1.25H56.6M56.60 302.3V309.1M90.58 302.3V305.7M124.57 302.3V309.1M158.55 302.3V305.7M192.53 302.3V309.1M226.52 302.3V305.7M260.50 302.3V309.1M294.48 302.3V305.7M328.47 302.3V309.1M362.45 302.3V305.7M396.43 302.3V309.1M430.42 302.3V305.7M464.40 302.3V309.1" stroke="#000" stroke-width="1.2" fill="none"/><g font-size="13" fill="#000"><text x="46" y="306.1" text-anchor="end">-100</text><text x="46" y="274.4" text-anchor="end">-80</text><text x="46" y="242.7" text-anchor="end">-60</text><text x="46" y="211.0" text-anchor="end">-40</text><text x="46" y="179.3" text-anchor="end">-20</text><text x="46" y="147.7" text-anchor="end">0</text><text x="46" y="116.0" text-anchor="end">20</text><text x="46" y="84.3" text-anchor="end">40</text><text x="46" y="52.6" text-anchor="end">60</text><text x="46" y="20.9" text-anchor="end">80</text><text x="56.6" y="322.3" text-anchor="middle">0</text><text x="124.6" y="322.3" text-anchor="middle">10</text><text x="192.5" y="322.3" text-anchor="middle">20</text><text x="260.5" y="322.3" text-anchor="middle">30</text><text x="328.5" y="322.3" text-anchor="middle">40</text><text x="396.4" y="322.3" text-anchor="middle">50</text><text x="463.6" y="322.3" text-anchor="middle">60</text></g><text x="260.5" y="347.4" font-size="16.5" text-anchor="middle">Time (min)</text><text transform="translate(13.2,150.3) rotate(-90)" font-size="16.5" text-anchor="middle">Deflection (nm)</text><rect x="337.9" y="1.45" width="126.5" height="111.95" fill="#fff" stroke="#333" stroke-width=".9"/><circle cx="360.7" cy="14.0" r="1.2" fill="#000000"/><text x="381.2" y="18.8" font-size="14.5">Cantilever 1</text><circle cx="360.7" cy="32.0" r="1.2" fill="#00ff00"/><text x="381.2" y="36.8" font-size="14.5">Cantilever 2</text><circle cx="360.7" cy="50.0" r="1.2" fill="#0000ff"/><text x="381.2" y="54.8" font-size="14.5">Cantilever 3</text><circle cx="360.7" cy="68.0" r="1.2" fill="#ff00ff"/><text x="381.2" y="72.8" font-size="14.5">Cantilever 4</text><circle cx="360.7" cy="86.0" r="1.2" fill="#808000"/><text x="381.2" y="90.8" font-size="14.5">Cantilever 5</text><circle cx="360.7" cy="104.0" r="1.2" fill="#ff8000"/><text x="381.2" y="108.8" font-size="14.5">Cantilever 6</text><rect x="56.6" y="1.45" width="407.79999999999995" height="300.85" fill="none" stroke="#000" stroke-width="1.2"/></svg></body></html>
